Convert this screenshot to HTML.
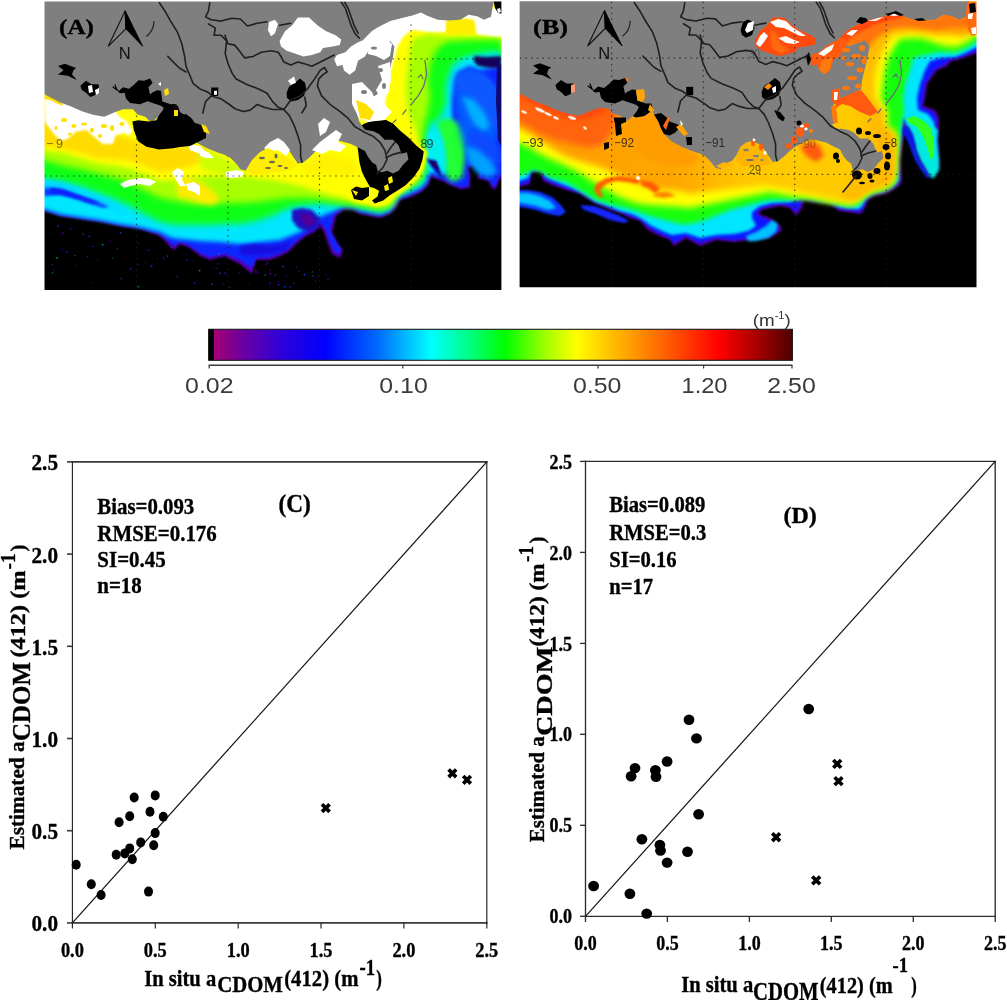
<!DOCTYPE html>
<html lang="en"><head><meta charset="utf-8"><title>CDOM absorption maps and validation</title>
<style>
html,body{margin:0;padding:0;background:#fff;}
body{width:1007px;height:1000px;overflow:hidden;font-family:"Liberation Serif",serif;}
svg{display:block;}
.tb{font-family:"Liberation Serif",serif;font-weight:bold;fill:#000;stroke:#000;stroke-width:0.35px;}
.ss{font-family:"Liberation Sans",sans-serif;}
</style></head><body>
<svg width="1007" height="1000" viewBox="0 0 1007 1000">
<defs>
<clipPath id="clipA"><rect x="44" y="1" width="458" height="290"/></clipPath>
<clipPath id="clipB"><rect x="519" y="1" width="458" height="287"/></clipPath>
<filter id="bl0_5" x="-20%" y="-20%" width="140%" height="140%"><feGaussianBlur stdDeviation="0.5"/></filter>
<filter id="bl0_7" x="-20%" y="-20%" width="140%" height="140%"><feGaussianBlur stdDeviation="0.7"/></filter>
<filter id="bl1" x="-20%" y="-20%" width="140%" height="140%"><feGaussianBlur stdDeviation="1"/></filter>
<filter id="bl1_5" x="-20%" y="-20%" width="140%" height="140%"><feGaussianBlur stdDeviation="1.5"/></filter>
<filter id="bl2" x="-20%" y="-20%" width="140%" height="140%"><feGaussianBlur stdDeviation="2"/></filter>
<filter id="bl2_5" x="-20%" y="-20%" width="140%" height="140%"><feGaussianBlur stdDeviation="2.5"/></filter>
<filter id="bl3" x="-20%" y="-20%" width="140%" height="140%"><feGaussianBlur stdDeviation="3"/></filter>
<filter id="bl4" x="-20%" y="-20%" width="140%" height="140%"><feGaussianBlur stdDeviation="4"/></filter>
<filter id="bl5" x="-20%" y="-20%" width="140%" height="140%"><feGaussianBlur stdDeviation="5"/></filter>
<filter id="bl6" x="-20%" y="-20%" width="140%" height="140%"><feGaussianBlur stdDeviation="6"/></filter>
<g id="land">
<polygon points="510.0,-5.0 969.0,-5.0 968.8,1.6 967.4,8.4 966.0,16.8 959.0,19.6 952.0,16.1 943.6,14.7 935.2,19.6 924.0,20.3 912.8,19.6 901.6,15.4 896.0,12.6 887.6,15.4 876.4,18.2 865.2,21.0 854.0,26.6 847.0,30.8 840.0,37.8 838.0,40.0 840.0,42.0 848.4,46.2 856.8,43.4 865.2,40.6 869.4,46.2 868.0,56.0 865.2,67.2 862.4,78.4 861.0,89.6 854.0,92.4 847.0,96.6 840.0,100.8 834.0,104.0 832.0,112.0 834.0,120.0 838.0,126.0 840.0,128.6 848.4,130.0 854.0,132.8 859.6,138.4 868.0,138.4 873.6,144.0 876.4,152.4 882.0,151.0 883.4,158.0 877.8,163.6 873.6,169.2 868.0,172.0 862.4,169.2 856.8,170.6 852.6,169.2 851.2,163.6 847.0,160.8 842.8,155.2 840.0,149.6 831.6,145.4 826.0,142.6 820.4,141.2 812.0,139.0 803.6,142.6 795.2,146.8 789.6,151.0 784.0,156.6 778.4,160.8 772.8,162.2 770.0,158.0 764.4,149.6 758.8,144.0 751.8,141.2 746.2,142.6 740.6,146.8 736.4,155.2 732.2,160.8 725.2,163.6 721.0,169.2 715.4,167.8 711.2,162.2 705.6,156.6 700.0,153.5 692.0,151.0 681.0,146.5 671.0,141.0 664.0,134.0 658.0,122.0 653.0,112.0 648.6,113.0 644.4,116.0 636.0,117.4 633.0,116.0 626.0,121.6 620.6,116.0 612.2,113.2 608.0,108.3 598.2,108.3 588.4,111.8 579.2,115.8 568.0,113.7 556.8,110.2 545.6,105.3 535.8,101.8 527.4,97.6 519.4,93.4 510.0,90.0" fill="#7f7f7f" />
<polyline points="900.0,60.0 901.6,74.0 898.8,85.2 893.2,95.0 886.2,103.4" fill="none" stroke="#6a6a78" stroke-width="1.3" stroke-linejoin="round" stroke-linecap="round" />
<polyline points="881.0,109.0 877.8,113.2" fill="none" stroke="#6a6a78" stroke-width="1.3" stroke-linejoin="round" stroke-linecap="round" />
<polyline points="871.0,119.0 868.0,121.6" fill="none" stroke="#6a6a78" stroke-width="1.3" stroke-linejoin="round" stroke-linecap="round" />
<polyline points="893.0,77.0 896.0,74.0 898.0,78.0" fill="none" stroke="#6a6a78" stroke-width="1.1" stroke-linejoin="round" stroke-linecap="round" />
</g>
<g id="rivers">
<polyline points="634.4,2.8 640.0,11.2 645.6,21.0 652.6,32.2 656.8,43.4 659.6,56.0 661.0,65.8 665.2,75.6 668.0,82.6 675.0,88.2 682.0,91.0 686.2,93.8" fill="none" stroke="#202020" stroke-width="1.6" stroke-linejoin="round" stroke-linecap="round" />
<polyline points="642.8,56.0 648.4,61.6 654.0,67.2 661.0,71.4" fill="none" stroke="#202020" stroke-width="1.6" stroke-linejoin="round" stroke-linecap="round" />
<polyline points="686.2,95.2 696.0,98.0 704.4,103.6 710.0,107.8 718.2,110.6 725.2,109.2 732.2,103.6 739.2,106.4 747.6,108.5 758.8,108.5" fill="none" stroke="#202020" stroke-width="1.6" stroke-linejoin="round" stroke-linecap="round" />
<polyline points="686.2,95.2 680.6,100.8 677.8,112.0" fill="none" stroke="#202020" stroke-width="1.6" stroke-linejoin="round" stroke-linecap="round" />
<polyline points="684.8,2.8 683.4,11.2 680.6,16.8 686.2,19.6 696.0,21.0 707.0,18.2 715.4,18.9 722.4,25.9 732.2,23.1 742.0,21.7" fill="none" stroke="#202020" stroke-width="1.6" stroke-linejoin="round" stroke-linecap="round" />
<polyline points="754.6,25.2 765.8,23.1" fill="none" stroke="#202020" stroke-width="1.6" stroke-linejoin="round" stroke-linecap="round" />
<polyline points="683.4,23.8 690.4,28.0 689.0,35.0 696.0,35.0 701.6,40.6 700.2,53.2 703.0,63.0 707.2,72.8 711.2,78.4 722.4,84.0 733.6,88.2 742.0,92.4 747.6,100.8 753.2,106.4 758.8,108.5" fill="none" stroke="#202020" stroke-width="1.6" stroke-linejoin="round" stroke-linecap="round" />
<polyline points="700.0,35.0 702.8,43.4 709.8,44.8 715.4,51.8 719.6,57.4 728.0,56.0 736.4,51.8 746.2,50.4 753.2,51.8 756.0,56.0 758.8,61.6 765.8,64.4 772.8,61.6 781.2,63.7 786.8,65.8 792.4,63.0 800.8,58.8 809.2,54.6" fill="none" stroke="#202020" stroke-width="1.6" stroke-linejoin="round" stroke-linecap="round" />
<polyline points="758.8,108.5 764.4,114.6 768.6,123.0 772.8,134.2 775.6,144.0 775.6,155.2 777.0,160.8" fill="none" stroke="#202020" stroke-width="1.6" stroke-linejoin="round" stroke-linecap="round" />
<polyline points="758.8,108.5 765.8,99.2 775.6,95.0 782.6,88.0 789.6,78.2 795.2,69.8 799.4,67.0 802.2,71.2 798.0,74.0 793.8,78.2 792.4,85.2 796.6,95.0 805.0,103.4 814.8,110.4 823.2,117.4 830.2,125.8 840.0,131.4 848.0,135.0 855.0,141.0 860.0,149.0 862.0,158.0 858.0,166.0 852.0,172.0" fill="none" stroke="#202020" stroke-width="1.6" stroke-linejoin="round" stroke-linecap="round" />
<polyline points="779.8,96.4 781.2,104.8 777.0,111.8" fill="none" stroke="#202020" stroke-width="1.6" stroke-linejoin="round" stroke-linecap="round" />
<polyline points="862.0,152.0 866.0,146.0 870.0,141.0" fill="none" stroke="#202020" stroke-width="1.6" stroke-linejoin="round" stroke-linecap="round" />
<polyline points="861.0,156.0 868.0,153.0 876.0,151.0" fill="none" stroke="#202020" stroke-width="1.6" stroke-linejoin="round" stroke-linecap="round" />
<polyline points="816.2,2.1 820.4,8.4 823.2,16.8 826.0,25.2 830.2,33.6 834.4,37.8" fill="none" stroke="#202020" stroke-width="1.6" stroke-linejoin="round" stroke-linecap="round" />
<polyline points="819.5,2.1 823.4,9.0 826.2,17.0 829.0,25.0 833.0,33.0" fill="none" stroke="#202020" stroke-width="1.6" stroke-linejoin="round" stroke-linecap="round" />
</g>
</defs>
<g clip-path="url(#clipB)">
<rect x="518.6" y="0.3" width="458.9" height="288.0" fill="#000"/>
<polygon points="500.0,187.0 519.4,187.0 530.0,184.0 532.0,172.0 541.0,172.0 543.0,181.0 552.0,185.0 566.0,190.0 580.0,194.0 594.0,203.0 608.0,209.0 622.0,214.0 630.0,218.0 640.0,221.0 648.0,230.0 660.0,236.0 670.0,240.0 674.0,246.0 686.0,238.0 700.0,246.0 716.0,240.0 734.0,242.0 750.0,240.0 770.0,238.0 782.0,230.0 780.0,226.0 770.0,218.0 758.0,214.0 762.0,210.0 770.0,208.0 780.0,206.0 790.0,208.0 796.0,216.0 802.0,208.0 804.0,200.0 810.0,202.0 830.0,204.0 839.0,211.0 855.0,213.0 860.0,214.0 864.0,210.0 868.0,200.0 875.0,196.0 885.0,194.0 893.0,190.0 900.0,185.0 902.0,180.0 901.0,170.0 900.0,160.0 902.0,150.0 903.0,140.0 906.0,127.0 911.0,130.0 919.0,156.0 927.0,172.0 935.0,176.0 939.0,166.0 938.0,140.0 939.0,118.0 935.0,110.0 923.0,106.0 925.0,98.0 927.0,84.0 937.0,70.0 947.0,66.0 951.0,61.0 958.0,60.0 966.0,57.0 976.6,53.0 1000.0,40.0 1000.0,-20.0 500.0,-20.0" fill="#5800b0" filter="url(#bl1)"/>
<polygon points="500.0,185.0 519.4,185.0 529.0,182.0 531.0,172.0 541.0,171.0 544.0,179.0 552.0,183.0 566.0,188.0 580.0,192.0 594.0,201.0 608.0,207.0 622.0,212.0 630.0,216.0 640.0,219.0 648.0,227.0 660.0,234.0 670.0,238.0 674.0,243.0 686.0,236.0 700.0,243.0 716.0,238.0 734.0,240.0 750.0,238.0 768.0,236.0 779.0,230.0 776.0,226.0 768.0,220.0 756.0,214.0 761.0,208.0 770.0,206.0 780.0,204.0 790.0,206.0 796.0,212.0 800.0,206.0 803.0,198.0 810.0,200.0 830.0,202.0 839.0,209.0 855.0,211.0 860.0,212.0 863.0,208.0 867.0,199.0 874.0,194.5 884.0,192.5 892.0,188.5 898.0,184.0 900.0,180.0 899.0,170.0 898.5,160.0 900.0,150.0 901.5,140.0 904.0,122.0 912.0,127.0 921.0,154.0 928.0,169.0 934.0,173.0 937.0,165.0 936.0,140.0 937.0,119.0 933.0,112.0 921.0,107.0 923.0,98.0 925.0,84.0 935.0,69.0 945.0,64.0 950.0,59.0 958.0,58.0 966.0,55.0 976.6,51.0 1000.0,40.0 1000.0,-20.0 500.0,-20.0" fill="#0a18ff" filter="url(#bl1)"/>
<polygon points="500.0,181.0 519.4,181.0 528.0,178.0 531.0,170.0 542.0,170.0 546.0,177.0 552.0,180.0 562.0,184.0 572.0,188.0 582.0,193.0 596.0,202.0 608.0,206.0 620.0,211.0 632.0,214.0 642.0,219.0 650.0,225.0 662.0,231.0 672.0,235.0 686.0,233.0 700.0,238.0 716.0,235.0 734.0,234.0 748.0,231.0 756.0,226.0 752.0,218.0 752.0,212.0 760.0,206.0 772.0,203.0 790.0,202.0 803.0,197.0 812.0,199.0 830.0,201.0 840.0,207.0 855.0,209.0 859.0,209.0 862.0,206.0 866.0,197.5 873.0,193.0 883.0,191.0 890.5,187.5 896.5,183.0 898.5,179.0 897.5,170.0 897.0,160.0 898.5,150.0 900.0,140.0 902.0,128.0 903.0,118.0 910.0,122.0 916.0,130.0 923.0,150.0 929.0,164.0 934.0,168.0 936.0,160.0 934.0,140.0 934.0,122.0 928.0,114.0 918.0,110.0 917.0,98.0 920.0,84.0 925.0,70.0 930.0,61.0 940.0,58.0 955.0,57.0 965.0,53.0 976.6,47.0 1000.0,40.0 1000.0,-20.0 500.0,-20.0" fill="#00e6ff" filter="url(#bl1_5)"/>
<polygon points="500.0,175.0 519.4,176.0 535.0,170.0 552.0,178.0 566.0,182.0 580.0,190.0 594.0,199.0 608.0,204.0 622.0,207.0 636.0,211.0 650.0,216.0 665.0,220.0 680.0,224.0 690.0,224.0 705.0,220.0 720.0,214.0 730.0,210.0 745.0,206.0 760.0,202.0 770.0,200.0 790.0,200.0 810.0,200.0 830.0,204.0 850.0,207.0 858.0,205.0 864.0,199.0 872.0,194.0 880.0,192.0 887.0,190.0 894.0,185.0 897.0,180.0 898.0,170.0 898.0,160.0 899.0,150.0 900.0,140.0 901.0,126.0 904.0,112.0 903.0,98.0 905.0,84.0 910.0,70.0 913.0,58.0 925.0,55.0 940.0,52.0 955.0,53.0 965.0,49.0 976.6,42.0 1000.0,40.0 1000.0,-20.0 500.0,-20.0" fill="#18ff10" filter="url(#bl2)"/>
<polygon points="500.0,142.0 519.4,143.0 530.0,148.0 540.0,154.0 550.0,159.0 560.0,163.0 570.0,168.0 580.0,173.0 590.0,180.0 600.0,186.0 610.0,192.0 620.0,197.0 630.0,201.0 640.0,204.0 650.0,205.0 665.0,206.0 680.0,207.0 690.0,208.0 705.0,205.0 720.0,202.0 730.0,200.0 745.0,197.0 760.0,194.0 770.0,192.0 790.0,196.0 810.0,198.0 830.0,202.0 850.0,205.0 857.0,203.0 863.0,197.5 871.0,192.5 879.0,190.5 886.0,188.5 892.5,184.0 895.5,179.0 896.5,170.0 897.0,160.0 897.5,150.0 898.0,140.0 896.0,132.0 887.0,126.0 888.0,112.0 881.0,98.0 883.0,84.0 885.0,70.0 889.0,56.0 895.0,46.0 900.0,39.0 915.0,38.0 925.0,39.0 935.0,43.0 945.0,46.0 955.0,47.0 965.0,43.0 976.6,35.0 1000.0,40.0 1000.0,-20.0 500.0,-20.0" fill="#ffff00" filter="url(#bl3)"/>
<defs><linearGradient id="gB" gradientUnits="userSpaceOnUse" x1="519" x2="977" y1="0" y2="0"><stop offset="0" stop-color="#ff9a00"/><stop offset="0.35" stop-color="#ffa800"/><stop offset="0.5" stop-color="#ffc800"/><stop offset="0.72" stop-color="#ffcc00"/><stop offset="0.8" stop-color="#ffb400"/><stop offset="1" stop-color="#ff9a00"/></linearGradient></defs>
<polygon points="500.0,128.0 519.4,128.0 530.0,134.0 540.0,140.0 550.0,147.0 560.0,153.0 570.0,158.0 580.0,161.0 590.0,164.0 600.0,167.0 612.0,172.0 625.0,178.0 640.0,184.0 650.0,188.0 665.0,190.0 680.0,191.0 690.0,194.0 705.0,192.0 720.0,190.0 740.0,188.0 760.0,186.0 770.0,186.0 790.0,190.0 810.0,194.0 830.0,199.0 850.0,202.0 856.0,201.0 862.0,196.0 870.0,191.0 878.0,189.0 885.0,187.0 891.0,183.0 894.0,178.0 895.0,170.0 895.5,160.0 896.0,150.0 896.0,140.0 893.0,132.0 884.0,126.0 884.0,112.0 875.0,98.0 874.0,84.0 876.0,70.0 880.0,56.0 886.0,44.0 892.0,35.0 910.0,32.0 935.0,35.0 950.0,35.0 960.0,36.0 968.0,35.0 976.6,32.0 1000.0,40.0 1000.0,-20.0 500.0,-20.0" fill="url(#gB)" filter="url(#bl3)"/>
<polygon points="500.0,122.0 519.4,122.0 530.0,128.0 540.0,134.0 550.0,138.0 560.0,141.0 572.0,144.0 584.0,147.0 596.0,147.0 606.0,142.0 612.0,131.0 616.0,118.0 620.0,110.0 620.0,90.0 500.0,90.0" fill="#ff6408" filter="url(#bl3)" />
<polygon points="519.0,96.0 530.0,102.0 545.0,110.0 560.0,116.0 575.0,120.0 590.0,118.0 604.0,112.0 610.0,108.0 600.0,104.0 519.0,90.0" fill="#ff4808" filter="url(#bl2_5)" />
<polygon points="596.0,184.0 606.0,178.0 620.0,176.0 632.0,178.0 640.0,180.0 638.0,184.0 628.0,182.0 616.0,181.0 606.0,184.0 600.0,190.0 604.0,198.0 598.0,196.0 594.0,190.0" fill="#ff5a00" filter="url(#bl1_5)" />
<polygon points="640.0,180.0 652.0,182.0 660.0,188.0 656.0,194.0 648.0,188.0 642.0,186.0" fill="#ff5a00" filter="url(#bl1_5)" />
<polygon points="652.0,196.0 664.0,198.0 676.0,196.0 668.0,192.0 658.0,192.0" fill="#ff8000" filter="url(#bl1_5)" />
<polygon points="626.0,122.0 634.0,117.0 646.0,116.0 652.0,112.0 660.0,124.0 668.0,136.0 674.0,142.0 690.0,150.0 700.0,158.0 690.0,166.0 670.0,166.0 650.0,160.0 636.0,150.0 626.0,140.0 622.0,130.0" fill="#ff9c00" filter="url(#bl2)" />
<polygon points="515.0,190.0 528.0,190.0 540.0,192.0 552.0,197.0 560.0,204.0 566.0,212.0 560.0,216.0 548.0,214.0 536.0,210.0 526.0,208.0 515.0,206.0" fill="#0a30ff" filter="url(#bl1)" />
<polygon points="515.0,193.0 528.0,193.0 540.0,196.0 550.0,201.0 556.0,208.0 548.0,210.0 536.0,206.0 526.0,204.0 515.0,202.0" fill="#00c8ff" filter="url(#bl1_5)" />
<polygon points="580.0,205.0 594.0,206.0 608.0,211.0 620.0,216.0 629.0,221.0 624.0,223.0 610.0,220.0 596.0,214.0 584.0,210.0" fill="#1828ff" filter="url(#bl1)" />
<polygon points="746.0,236.0 756.0,232.0 766.0,226.0 772.0,220.0 778.0,224.0 776.0,232.0 768.0,238.0 756.0,241.0 748.0,241.0" fill="#00c0ff" filter="url(#bl1_5)" />
<polygon points="904.0,118.0 912.8,113.2 924.0,118.8 932.0,125.0 938.0,130.0 937.0,140.0 939.0,160.0 939.0,170.0 934.0,178.0 930.0,177.0 926.0,170.0 920.0,160.0 916.0,150.0 912.0,140.0 908.0,129.0" fill="#00e8e0" filter="url(#bl1_5)" />
<polygon points="906.0,119.0 914.0,116.0 924.0,121.0 931.0,129.0 934.0,142.0 934.0,156.0 931.0,160.0 928.0,150.0 924.0,138.0 917.0,127.0 908.0,122.0" fill="#30ff20" filter="url(#bl1_8)" />
<polygon points="907.0,128.0 912.0,140.0 916.0,150.0 920.0,160.0 926.0,170.0 930.0,177.0 927.0,178.0 921.0,170.0 915.0,160.0 911.0,150.0 907.0,138.0 905.0,130.0" fill="#1020f0" filter="url(#bl1)" />
<polygon points="903.0,128.0 908.0,126.0 913.0,134.0 916.0,146.0 914.0,150.0 908.0,140.0 903.0,134.0" fill="#1018e0" filter="url(#bl1)" />
<polygon points="884.0,140.0 890.0,140.0 892.0,156.0 888.0,170.0 880.0,180.0 868.0,190.0 860.0,198.0 850.0,200.0 840.0,196.0 850.0,176.0 870.0,172.0 880.0,164.0" fill="#ffbe00" filter="url(#bl2)" />
<polygon points="836.0,36.0 846.0,28.0 858.0,22.0 872.0,17.0 888.0,13.0 898.0,11.0 910.0,17.0 924.0,19.0 936.0,18.0 944.0,13.0 952.0,14.0 960.0,18.0 968.0,14.0 980.0,14.0 980.0,28.0 966.0,27.0 950.0,28.0 936.0,30.0 920.0,28.0 906.0,27.0 894.0,28.0 884.0,33.0 874.0,40.0 868.0,50.0 858.0,46.0 848.0,48.0 838.0,44.0" fill="#ff7410" filter="url(#bl2)" />
<polygon points="836.0,38.0 846.0,30.0 858.0,24.0 872.0,19.0 888.0,15.0 898.0,12.0 906.0,16.0 896.0,19.0 884.0,22.0 872.0,26.0 862.0,31.0 852.0,37.0 844.0,42.0" fill="#ff4c10" filter="url(#bl1_5)" />
<use href="#land"/>
<polygon points="754.6,40.6 760.2,30.8 767.2,25.2 772.8,17.5 784.0,17.5 792.4,25.2 800.8,30.8 810.6,35.0 816.2,39.2 814.8,44.8 807.8,46.2 798.0,47.6 795.2,51.8 786.8,54.6 778.4,56.0 770.0,53.2 761.6,50.4 756.0,46.2" fill="#ff4a10" filter="url(#bl0_7)" />
<polygon points="756.0,44.0 760.0,36.0 764.0,32.0 768.0,36.0 764.0,42.0 760.0,47.0" fill="#fff" filter="url(#bl0_7)" />
<polygon points="770.0,22.0 778.0,19.0 786.0,21.0 792.0,27.0 800.0,32.0 806.0,36.0 800.0,36.0 792.0,32.0 784.0,28.0 776.0,27.0" fill="#fff" filter="url(#bl0_7)" />
<polygon points="778.0,38.0 786.0,36.0 794.0,40.0 800.0,42.0 794.0,44.0 786.0,43.0" fill="#fff" filter="url(#bl0_7)" />
<polygon points="770.0,30.0 776.0,32.0 780.0,44.0 790.0,50.0 780.0,54.0 772.0,48.0" fill="#ff6a10" filter="url(#bl1)" />
<polygon points="809.2,58.8 812.0,54.6 820.4,51.8 826.0,46.2 833.0,42.0 840.0,39.2 846.0,36.0 850.0,40.0 846.0,46.0 840.0,56.0 833.0,60.2 830.2,70.0 824.6,74.2 819.0,70.0 817.6,64.4 812.0,65.8" fill="#ff5a10" filter="url(#bl0_7)" />
<polygon points="818.0,54.0 826.0,48.0 834.0,44.0 832.0,50.0 824.0,56.0" fill="#fff" filter="url(#bl0_7)" />
<polygon points="822.0,60.0 832.0,58.0 830.0,70.0 824.6,74.2 819.0,70.0" fill="#ff7a10" filter="url(#bl0_7)" />
<polygon points="806.0,56.0 809.0,52.0 811.0,60.0 808.0,66.0" fill="#000" filter="url(#bl0_5)" />
<polygon points="842.0,36.0 850.0,29.0 858.0,25.0 866.0,22.0 872.0,26.0 862.0,30.0 852.0,36.0 846.0,41.0" fill="#ff4a10" filter="url(#bl0_7)" />
<polygon points="846.0,34.0 852.0,30.0 858.0,30.0 852.0,36.0" fill="#fff" filter="url(#bl0_7)" />
<polygon points="866.0,21.0 876.0,18.5 888.0,15.5 896.0,13.0 902.0,16.0 890.0,20.0 878.0,23.0 868.0,25.0" fill="#ff4a10" filter="url(#bl0_7)" />
<polygon points="868.0,21.0 878.0,18.0 884.0,17.0 876.0,21.0" fill="#fff" filter="url(#bl0_5)" />
<polygon points="888.0,15.0 896.0,12.4 902.0,15.0 894.0,16.0" fill="#fff" filter="url(#bl0_5)" />
<polygon points="856.0,22.0 860.0,17.0 866.0,18.0 868.0,21.0 862.0,24.0" fill="#000" filter="url(#bl0_5)" />
<polygon points="886.0,14.0 896.0,11.0 904.0,15.0 900.0,16.0 894.0,13.6 888.0,16.0" fill="#000" filter="url(#bl0_5)" />
<polygon points="914.0,19.0 922.0,18.0 926.0,20.5 918.0,21.0" fill="#000" filter="url(#bl0_5)" />
<polygon points="967.0,2.0 977.0,2.0 977.0,34.0 972.0,36.0 968.0,30.0 966.0,18.0" fill="#ff6a10" filter="url(#bl0_7)" />
<polygon points="969.0,4.0 975.0,3.0 976.0,12.0 970.0,13.0" fill="#000" filter="url(#bl0_7)" />
<polygon points="968.0,14.0 973.0,13.0 972.0,19.0 968.0,19.0" fill="#fff" filter="url(#bl0_5)" />
<polygon points="971.0,28.0 976.0,27.0 976.0,34.0 972.0,34.0" fill="#fff" filter="url(#bl0_5)" />
<ellipse cx="846.0" cy="50.0" rx="4.0" ry="2.2" fill="#ff7a10" filter="url(#bl0_7)"/>
<ellipse cx="856.0" cy="56.0" rx="5.0" ry="2.0" fill="#ff7a10" filter="url(#bl0_7)"/>
<ellipse cx="850.0" cy="64.0" rx="4.0" ry="2.0" fill="#ff7a10" filter="url(#bl0_7)"/>
<ellipse cx="860.0" cy="70.0" rx="3.5" ry="2.5" fill="#ff7a10" filter="url(#bl0_7)"/>
<ellipse cx="852.0" cy="78.0" rx="5.0" ry="2.0" fill="#ff7a10" filter="url(#bl0_7)"/>
<ellipse cx="858.0" cy="86.0" rx="3.0" ry="2.5" fill="#ff7a10" filter="url(#bl0_7)"/>
<ellipse cx="846.0" cy="88.0" rx="4.0" ry="2.0" fill="#ff7a10" filter="url(#bl0_7)"/>
<ellipse cx="862.0" cy="48.0" rx="3.0" ry="3.0" fill="#ff7a10" filter="url(#bl0_7)"/>
<ellipse cx="844.0" cy="58.0" rx="2.5" ry="2.0" fill="#ff7a10" filter="url(#bl0_7)"/>
<ellipse cx="864.0" cy="60.0" rx="2.5" ry="4.0" fill="#ff7a10" filter="url(#bl0_7)"/>
<polygon points="861.0,90.0 866.0,96.0 872.0,104.0 878.0,112.0 870.0,116.0 860.0,112.0 850.0,106.0 842.0,104.0 836.0,108.0 834.0,100.0 840.0,98.0 848.0,95.0 854.0,92.0" fill="#ff5a10" filter="url(#bl1_2)" />
<polygon points="832.0,90.0 840.0,88.0 840.0,100.0 834.0,104.0 831.0,98.0" fill="#ff5a10" filter="url(#bl0_7)" />
<polygon points="834.0,92.0 838.0,92.0 837.0,100.0 834.0,100.0" fill="#fff" filter="url(#bl0_5)" />
<polygon points="831.0,106.0 836.0,106.0 838.0,124.0 833.0,122.0" fill="#ff7a10" filter="url(#bl0_7)" />
<polygon points="832.0,124.0 840.0,122.0 840.0,129.0 834.0,128.0" fill="#ffc400" filter="url(#bl0_7)" />
<ellipse cx="800.0" cy="132.0" rx="4.0" ry="5.0" fill="#ff5a10" filter="url(#bl0_5)"/>
<ellipse cx="806.0" cy="126.0" rx="3.0" ry="3.0" fill="#ff5a10" filter="url(#bl0_5)"/>
<ellipse cx="794.0" cy="140.0" rx="3.0" ry="4.0" fill="#ff5a10" filter="url(#bl0_5)"/>
<ellipse cx="789.0" cy="146.0" rx="3.0" ry="3.0" fill="#ff5a10" filter="url(#bl0_5)"/>
<ellipse cx="811.0" cy="131.0" rx="2.0" ry="2.0" fill="#ff7a10" filter="url(#bl0_5)"/>
<ellipse cx="802.0" cy="126.0" rx="2.0" ry="1.6" fill="#fff" filter="url(#bl0_5)"/>
<ellipse cx="806.0" cy="129.0" rx="1.6" ry="1.4" fill="#fff" filter="url(#bl0_5)"/>
<ellipse cx="799.0" cy="123.0" rx="2.5" ry="2.5" fill="#000" filter="url(#bl0_5)"/>
<polygon points="800.0,146.0 812.0,141.0 820.0,146.0 824.0,156.0 816.0,162.0 806.0,156.0" fill="#ff5a10" filter="url(#bl2)" />
<polygon points="741.0,147.0 746.0,143.0 752.0,142.0 758.0,145.0 764.0,150.0 769.0,158.0 771.0,164.0 760.0,166.0 750.0,166.0 742.0,166.0 736.0,160.0 737.0,154.0" fill="#ffb400" filter="url(#bl0_7)" />
<ellipse cx="753.0" cy="143.0" rx="2.0" ry="3.0" fill="#ff5a10" filter="url(#bl0_5)"/>
<ellipse cx="761.0" cy="147.0" rx="2.0" ry="3.5" fill="#ff5a10" filter="url(#bl0_5)"/>
<ellipse cx="765.0" cy="153.0" rx="1.6" ry="2.0" fill="#fff" filter="url(#bl0_5)"/>
<ellipse cx="754.0" cy="140.0" rx="1.4" ry="1.4" fill="#fff" filter="url(#bl0_5)"/>
<ellipse cx="746.0" cy="150.0" rx="3.0" ry="1.2" fill="#7f7f7f" filter="url(#bl0_5)"/>
<ellipse cx="756.0" cy="156.0" rx="3.0" ry="1.2" fill="#7f7f7f" filter="url(#bl0_5)"/>
<ellipse cx="762.0" cy="160.0" rx="2.0" ry="1.0" fill="#7f7f7f" filter="url(#bl0_5)"/>
<ellipse cx="750.0" cy="160.0" rx="4.0" ry="1.0" fill="#6a6a78" filter="url(#bl0_5)"/>
<polygon points="716.0,166.0 724.0,162.0 730.0,165.0 722.0,169.0" fill="#ffb400" filter="url(#bl0_7)" />
<polygon points="591.0,88.0 594.0,90.0 598.0,86.6 604.0,88.0 609.0,84.0 613.6,79.6 619.0,80.0 625.0,78.0 627.6,82.4 623.4,86.6 625.0,93.6 622.0,100.6 615.0,103.4 605.0,102.0 601.0,97.8 599.6,92.0 596.0,92.5 594.0,92.0" fill="#000" filter="url(#bl0_5)" />
<polygon points="623.4,95.0 627.0,92.0 632.0,89.4 636.0,90.0 637.4,100.6 645.8,103.4 651.4,103.4 652.8,109.0 648.6,113.0 644.4,116.0 636.0,117.4 633.0,116.0 637.0,111.0 638.8,107.0 636.0,104.8 627.6,102.0 622.0,100.0" fill="#000" filter="url(#bl0_5)" />
<polygon points="654.0,114.6 661.0,113.0 666.8,117.4 669.6,121.6 678.0,124.4 680.8,127.0 675.0,132.8 669.6,135.6 664.0,134.0 661.0,128.6 658.4,121.6" fill="#000" filter="url(#bl0_5)" />
<polygon points="533.0,65.4 540.0,63.3 545.6,65.4 551.2,67.5 548.4,69.6 547.0,73.8 551.9,79.4 548.4,78.0 542.8,75.2 533.0,73.8 538.6,69.6" fill="#000" filter="url(#bl0_5)" />
<polygon points="555.4,85.0 561.0,80.1 566.6,83.6 573.6,83.6 574.3,90.6 569.4,94.8 565.2,96.2 561.0,92.0 556.8,89.2" fill="#000" filter="url(#bl0_5)" />
<polygon points="761.6,92.0 764.0,86.0 770.0,82.0 775.0,78.0 780.0,82.0 781.2,88.0 779.0,95.0 773.0,99.0 766.0,100.6 762.0,97.0" fill="#000" filter="url(#bl0_5)" />
<polygon points="740.6,30.0 743.0,22.0 748.0,19.6 753.0,22.0 754.6,28.0 752.0,35.0 746.0,37.8 742.0,35.0" fill="#000" filter="url(#bl0_5)" />
<polyline points="588.0,86.0 592.0,89.0 590.0,84.0" fill="none" stroke="#000" stroke-width="1.2" stroke-linejoin="round" stroke-linecap="round" />
<polygon points="636.0,90.0 644.0,89.0 645.0,97.0 643.0,102.0 637.4,100.6" fill="#ffa400" filter="url(#bl0_5)" />
<polygon points="625.0,78.0 629.0,79.0 628.0,83.0" fill="#ff7a10" filter="url(#bl0_5)" />
<polygon points="650.0,104.0 654.0,110.0 652.0,113.0 648.0,110.0" fill="#ffa400" filter="url(#bl0_5)" />
<polygon points="663.0,126.0 668.0,117.0 670.0,118.0 666.0,130.0" fill="#ff6a10" filter="url(#bl0_5)" />
<polygon points="676.0,127.0 681.0,124.0 688.0,134.0 684.0,136.0" fill="#ffa400" filter="url(#bl0_5)" />
<polygon points="686.0,137.0 692.0,137.0 692.0,145.0 687.0,145.0" fill="#000" filter="url(#bl0_5)" />
<polygon points="680.0,120.0 683.0,124.0 681.0,126.0" fill="#fff" filter="url(#bl0_4)" />
<polygon points="613.6,117.4 626.0,117.4 626.0,122.0 621.0,124.0 622.0,134.0 616.0,136.0 615.0,124.0" fill="#000" filter="url(#bl0_5)" />
<polygon points="604.0,143.0 609.0,142.0 609.0,148.0 604.0,150.0" fill="#000" filter="url(#bl0_5)" />
<polygon points="686.2,86.8 693.2,86.8 693.2,95.2 686.2,95.2" fill="#000" filter="url(#bl0_5)" />
<polygon points="774.0,110.0 780.0,112.0 785.0,118.0 783.0,121.6 778.0,118.0" fill="#000" filter="url(#bl0_5)" />
<polygon points="571.0,85.0 575.0,84.0 575.0,92.0 571.0,93.0" fill="#ff9a70" filter="url(#bl0_5)" />
<polygon points="748.0,23.0 754.0,21.0 753.0,30.0 747.0,33.0 745.0,30.0" fill="#fff" filter="url(#bl0_5)" />
<polygon points="764.0,87.0 769.0,83.0 772.0,86.0 768.0,90.0" fill="#ff8a10" filter="url(#bl0_5)" />
<polygon points="772.0,88.0 776.0,86.0 776.0,92.0 773.0,93.0" fill="#fff" filter="url(#bl0_4)" />
<ellipse cx="859.0" cy="131.0" rx="3.0" ry="3.5" fill="#000" filter="url(#bl0_5)"/>
<ellipse cx="868.0" cy="133.0" rx="3.0" ry="2.0" fill="#000" filter="url(#bl0_5)"/>
<ellipse cx="877.0" cy="136.0" rx="4.0" ry="2.0" fill="#000" filter="url(#bl0_5)"/>
<ellipse cx="886.0" cy="147.0" rx="3.5" ry="3.0" fill="#000" filter="url(#bl0_5)"/>
<ellipse cx="888.0" cy="156.0" rx="3.0" ry="3.5" fill="#000" filter="url(#bl0_5)"/>
<ellipse cx="887.0" cy="166.0" rx="3.0" ry="4.5" fill="#000" filter="url(#bl0_5)"/>
<ellipse cx="877.0" cy="171.0" rx="3.5" ry="3.0" fill="#000" filter="url(#bl0_5)"/>
<ellipse cx="870.0" cy="176.0" rx="2.5" ry="3.0" fill="#000" filter="url(#bl0_5)"/>
<ellipse cx="857.0" cy="175.0" rx="5.0" ry="4.5" fill="#000" filter="url(#bl0_5)"/>
<ellipse cx="862.0" cy="183.0" rx="3.0" ry="1.2" fill="#000" filter="url(#bl0_5)"/>
<ellipse cx="872.0" cy="181.0" rx="2.5" ry="1.5" fill="#000" filter="url(#bl0_5)"/>
<ellipse cx="836.0" cy="156.0" rx="3.0" ry="3.5" fill="#000" filter="url(#bl0_5)"/>
<ellipse cx="838.0" cy="161.0" rx="2.0" ry="2.0" fill="#000" filter="url(#bl0_5)"/>
<polyline points="856.0,176.0 848.0,186.0 843.0,192.0" fill="none" stroke="#222" stroke-width="1.6" stroke-linejoin="round" stroke-linecap="round" />
<use href="#rivers"/>
<ellipse cx="540.0" cy="110.0" rx="5.0" ry="1.5" fill="#fff" transform="rotate(25 540.0 110.0)" filter="url(#bl0_5)"/>
<ellipse cx="548.0" cy="114.0" rx="4.0" ry="1.2" fill="#fff" transform="rotate(25 548.0 114.0)" filter="url(#bl0_5)"/>
<ellipse cx="556.0" cy="118.0" rx="3.0" ry="1.2" fill="#fff" transform="rotate(25 556.0 118.0)" filter="url(#bl0_5)"/>
<ellipse cx="572.0" cy="118.0" rx="4.0" ry="1.4" fill="#fff" transform="rotate(20 572.0 118.0)" filter="url(#bl0_5)"/>
<ellipse cx="585.0" cy="128.0" rx="2.0" ry="1.2" fill="#fff" transform="rotate(40 585.0 128.0)" filter="url(#bl0_5)"/>
<ellipse cx="524.0" cy="112.0" rx="3.0" ry="1.2" fill="#fff" transform="rotate(25 524.0 112.0)" filter="url(#bl0_5)"/>
<ellipse cx="638.0" cy="178.0" rx="2.2" ry="1.8" fill="#fff" transform="rotate(30 638.0 178.0)" filter="url(#bl0_5)"/>
<ellipse cx="510.0" cy="120.0" rx="2.0" ry="1.0" fill="#fff" transform="rotate(0 510.0 120.0)" filter="url(#bl0_5)"/>
<path d="M611.6 1.3V287.3" stroke="#1c1c10" stroke-width="1.2" stroke-dasharray="1.6 4.1" opacity="0.72"/>
<path d="M703.2 1.3V287.3" stroke="#1c1c10" stroke-width="1.2" stroke-dasharray="1.6 4.1" opacity="0.72"/>
<path d="M794.7 1.3V287.3" stroke="#1c1c10" stroke-width="1.2" stroke-dasharray="1.6 4.1" opacity="0.72"/>
<path d="M886.2 1.3V287.3" stroke="#1c1c10" stroke-width="1.2" stroke-dasharray="1.6 4.1" opacity="0.72"/>
<path d="M519.6 58.1H976.5" stroke="#1c1c10" stroke-width="1.2" stroke-dasharray="1.6 4.1" opacity="0.72"/>
<path d="M519.6 174.3H976.5" stroke="#1c1c10" stroke-width="1.2" stroke-dasharray="1.6 4.1" opacity="0.72"/>
<text class="ss" x="522.0" y="147.0" font-size="12.5" fill="#1a1a10" opacity="0.85" textLength="21.5" lengthAdjust="spacingAndGlyphs">−93</text>
<text class="ss" x="614.0" y="147.0" font-size="12.5" fill="#1a1a10" opacity="0.85" textLength="20.0" lengthAdjust="spacingAndGlyphs">−92</text>
<text class="ss" x="705.0" y="147.0" font-size="12.5" fill="#1a1a10" opacity="0.85" textLength="20.0" lengthAdjust="spacingAndGlyphs">−91</text>
<text class="ss" x="797.0" y="148.0" font-size="12.5" fill="#1a1a10" opacity="0.35" textLength="19.0" lengthAdjust="spacingAndGlyphs">−90</text>
<text class="ss" x="884.0" y="147.0" font-size="12.5" fill="#1a1a10" opacity="0.85" textLength="13.0" lengthAdjust="spacingAndGlyphs">−8</text>
<text class="ss" x="749.0" y="174.0" font-size="12.5" fill="#1a1a10" opacity="0.7" textLength="12.0" lengthAdjust="spacingAndGlyphs">29</text>
<text class="ss" x="749.0" y="58.0" font-size="12.5" fill="#1a1a10" opacity="0.4" textLength="11.0" lengthAdjust="spacingAndGlyphs">30</text>
<text class="tb" x="533" y="34" font-size="21" textLength="35" lengthAdjust="spacingAndGlyphs" fill="#111">(B)</text>
<path d="M604.6 10.5L587.6 46.0L605.2 28.5Z" fill="none" stroke="#111" stroke-width="1.1" stroke-linejoin="miter"/>
<path d="M604.6 10.5L622.1 46.0L605.2 28.5Z" fill="#000" stroke="#000" stroke-width="0.8"/>
<text class="ss" x="604.1" y="58.7" font-size="16.5" text-anchor="middle" fill="#111">N</text>
<path d="M630.2 20.8q0 9.5 -7.6 15.4" fill="none" stroke="#222" stroke-width="1.2"/>
</g>
<path fill-rule="evenodd" fill="#fff" d="M517 -1H979V290H517ZM519.6 1.3H976.5V287.3H519.6Z"/>
<g clip-path="url(#clipA)">
<rect x="43.5" y="0.4" width="458.9" height="290.6" fill="#000"/>
<polygon points="20.0,205.0 44.5,211.0 60.0,216.0 80.0,219.0 100.0,222.0 120.0,226.0 140.0,229.0 160.0,236.0 174.0,250.0 180.0,244.0 190.0,248.0 200.0,256.0 210.0,260.0 224.0,256.0 240.0,264.0 252.0,274.0 256.0,260.0 270.0,260.0 280.0,256.0 288.0,252.0 296.0,244.0 306.0,236.0 314.0,232.0 320.0,226.0 324.0,232.0 328.0,244.0 332.0,254.0 340.0,258.0 343.0,250.0 338.0,244.0 332.0,232.0 336.0,216.0 344.0,210.0 352.0,210.0 360.0,214.0 370.0,216.0 380.0,218.0 390.0,214.0 396.0,208.0 400.0,200.0 411.0,197.0 422.0,191.5 428.6,185.0 431.0,177.0 441.8,180.4 449.5,184.8 460.5,189.2 470.0,187.5 470.4,176.0 468.5,167.5 474.8,165.0 479.0,171.6 477.5,178.5 488.0,180.4 491.3,187.0 495.0,190.0 499.0,180.4 501.5,176.0 530.0,180.0 530.0,-20.0 20.0,-20.0" fill="#5a00b4" filter="url(#bl1)"/>
<polygon points="20.0,204.0 44.5,210.0 60.0,215.0 80.0,218.0 100.0,221.0 120.0,225.0 140.0,228.0 160.0,234.0 174.0,246.0 180.0,242.0 190.0,246.0 200.0,253.0 210.0,257.0 224.0,254.0 240.0,260.0 252.0,268.0 256.0,258.0 270.0,257.0 280.0,253.0 288.0,249.0 296.0,241.0 306.0,234.0 314.0,229.0 320.0,222.0 326.0,230.0 330.0,242.0 334.0,251.0 339.0,254.0 341.0,249.0 336.0,242.0 330.0,230.0 334.0,214.0 344.0,208.0 352.0,208.0 360.0,212.0 370.0,214.0 380.0,216.0 390.0,212.0 395.0,206.0 399.0,199.0 410.0,195.5 421.0,190.0 427.0,184.0 430.0,175.5 441.8,178.8 449.5,183.0 460.5,187.5 468.5,186.0 468.8,176.0 467.0,167.0 475.0,163.3 480.6,171.6 479.0,177.0 488.0,178.8 492.0,184.0 495.0,187.0 498.0,179.0 501.5,174.0 530.0,180.0 530.0,-20.0 20.0,-20.0" fill="#0828ff" filter="url(#bl1)"/>
<polygon points="20.0,203.0 44.5,209.0 60.0,214.0 80.0,217.0 100.0,220.0 120.0,224.0 140.0,227.0 160.0,232.0 172.0,238.0 180.0,239.0 190.0,240.0 200.0,241.0 220.0,242.0 240.0,244.0 260.0,242.0 280.0,240.0 290.0,236.0 300.0,232.0 310.0,226.0 318.0,218.0 326.0,214.0 332.0,212.0 344.0,206.0 352.0,206.0 360.0,210.0 370.0,212.0 380.0,214.0 390.0,210.0 394.0,204.0 398.0,197.0 409.0,193.0 420.0,188.0 425.5,182.5 428.5,174.0 436.0,170.0 444.0,174.0 452.0,172.0 456.0,160.0 454.0,140.0 452.0,120.0 452.0,100.0 454.0,84.0 458.0,72.0 470.0,66.0 480.0,70.0 490.0,68.0 501.5,66.0 530.0,180.0 530.0,-20.0 20.0,-20.0" fill="#00e6ff" filter="url(#bl2)"/>
<polygon points="20.0,172.0 44.5,179.0 64.0,182.0 80.0,186.0 96.0,192.0 112.0,198.0 128.0,205.0 144.0,214.0 160.0,222.0 176.0,225.0 192.0,225.0 208.0,225.0 224.0,224.0 240.0,224.0 256.0,221.0 272.0,216.0 284.0,210.0 296.0,206.0 320.0,204.0 340.0,206.0 360.0,208.0 380.0,212.0 390.0,208.0 394.0,201.0 398.0,195.0 408.0,190.0 418.0,185.0 423.0,180.0 426.0,172.0 428.0,160.0 427.0,140.0 430.0,124.0 440.0,118.0 446.0,104.0 446.0,84.0 452.0,66.0 462.0,58.0 476.0,54.0 490.0,52.0 501.5,52.0 530.0,180.0 530.0,-20.0 20.0,-20.0" fill="#10ff18" filter="url(#bl3)"/>
<polygon points="436.0,122.0 448.0,118.0 458.0,122.0 464.0,134.0 466.0,150.0 464.0,166.0 462.0,178.0 452.0,182.0 446.0,176.0 446.0,160.0 444.0,146.0 440.0,134.0" fill="#20ff30" filter="url(#bl2_5)" />
<polygon points="427.0,132.0 436.0,128.0 442.0,140.0 444.0,160.0 442.0,176.0 434.0,172.0 428.0,166.0 426.0,150.0" fill="#00f0f0" filter="url(#bl2)" />
<polygon points="20.0,152.0 44.5,160.0 64.0,166.0 80.0,169.0 96.0,173.0 112.0,177.0 128.0,182.0 144.0,190.0 160.0,198.0 176.0,201.0 192.0,204.0 208.0,204.0 224.0,203.0 240.0,203.0 256.0,202.0 272.0,200.0 288.0,198.0 304.0,198.0 320.0,199.0 340.0,202.0 360.0,205.0 380.0,209.0 392.0,206.0 398.0,193.0 407.0,187.5 416.0,182.5 421.0,177.0 423.5,168.0 423.0,156.0 422.0,140.0 424.0,124.0 428.0,110.0 430.0,96.0 428.0,80.0 430.0,64.0 436.0,50.0 446.0,42.0 470.0,40.0 501.5,40.0 530.0,180.0 530.0,-20.0 20.0,-20.0" fill="#a8ff00" filter="url(#bl3)"/>
<polygon points="20.0,146.0 44.5,150.0 64.0,153.0 80.0,158.0 96.0,163.0 112.0,165.0 128.0,168.0 144.0,174.0 160.0,181.0 176.0,180.0 192.0,178.0 208.0,176.0 224.0,176.0 240.0,176.0 256.0,178.0 272.0,180.0 288.0,183.0 304.0,187.0 320.0,192.0 340.0,197.0 360.0,201.0 380.0,205.0 390.0,203.0 396.0,191.5 405.0,185.5 414.0,180.5 419.0,175.0 421.0,166.0 420.0,156.0 418.0,140.0 414.0,126.0 408.0,112.0 406.0,96.0 406.0,80.0 408.0,64.0 410.0,48.0 414.0,38.0 430.0,34.0 446.0,36.0 474.0,36.0 501.5,36.0 530.0,180.0 530.0,-20.0 20.0,-20.0" fill="#ffff00" filter="url(#bl2_5)"/>
<polygon points="20.0,140.0 44.5,146.0 64.0,149.0 80.0,153.0 96.0,158.0 112.0,159.0 128.0,160.0 144.0,166.0 160.0,172.0 176.0,170.0 192.0,166.0 204.0,160.0 210.0,152.0 200.0,146.0 150.0,146.0 20.0,100.0" fill="#ffdc00" filter="url(#bl2_5)" />
<polygon points="300.0,166.0 312.0,158.0 326.0,154.0 340.0,156.0 352.0,160.0 358.0,170.0 350.0,178.0 336.0,176.0 320.0,174.0 306.0,174.0" fill="#fff200" filter="url(#bl3)" />
<polygon points="176.0,178.0 190.0,178.0 204.0,184.0 214.0,192.0 220.0,200.0 212.0,205.0 200.0,203.0 190.0,199.0 178.0,197.0" fill="#ffea00" filter="url(#bl2_5)" />
<polygon points="200.0,150.0 212.0,152.0 224.0,158.0 236.0,164.0 246.0,172.0 240.0,178.0 226.0,176.0 212.0,172.0 200.0,168.0" fill="#ccff00" filter="url(#bl2_5)" />
<polygon points="44.0,186.0 56.0,186.0 70.0,190.0 84.0,196.0 98.0,200.0 110.0,206.0 104.0,208.0 90.0,204.0 76.0,199.0 60.0,195.0 44.0,196.0" fill="#0a30ff" filter="url(#bl1_5)" />
<polygon points="44.0,180.0 60.0,182.0 76.0,188.0 92.0,194.0 108.0,200.0 120.0,208.0 128.0,214.0 118.0,212.0 104.0,204.0 88.0,198.0 72.0,193.0 56.0,188.0 44.0,188.0" fill="#00d8ff" filter="url(#bl2)" />
<polygon points="50.0,188.0 62.0,189.0 76.0,194.0 90.0,199.0 100.0,203.0 92.0,203.0 78.0,199.0 64.0,195.0 50.0,193.0" fill="#1020ff" filter="url(#bl1)" />
<polygon points="292.0,210.0 302.0,208.0 312.0,210.0 320.0,218.0 318.0,228.0 308.0,232.0 298.0,228.0 292.0,220.0" fill="#2008c0" filter="url(#bl1_5)" />
<polygon points="300.0,214.0 310.0,214.0 316.0,222.0 308.0,227.0 302.0,222.0" fill="#50009a" filter="url(#bl1)" />
<polygon points="240.0,246.0 256.0,244.0 270.0,246.0 284.0,244.0 292.0,240.0 286.0,250.0 270.0,254.0 252.0,256.0 240.0,254.0" fill="#1810e0" filter="url(#bl1_5)" />
<polygon points="454.0,74.0 470.0,68.0 486.0,76.0 496.0,90.0 499.0,130.0 492.0,156.0 480.0,170.0 468.0,160.0 460.0,136.0 455.0,104.0" fill="#0070ff" filter="url(#bl3)" opacity="0.7"/>
<polygon points="456.0,76.0 470.0,70.0 484.0,74.0 494.0,84.0 501.5,96.0 501.5,120.0 494.0,130.0 484.0,120.0 476.0,104.0 466.0,92.0 458.0,88.0" fill="#0a58ff" filter="url(#bl2_5)" />
<polygon points="462.0,96.0 474.0,100.0 484.0,112.0 490.0,126.0 484.0,132.0 474.0,124.0 468.0,112.0" fill="#00b0ff" filter="url(#bl2_5)" />
<polygon points="470.0,130.0 486.0,134.0 498.0,146.0 501.5,160.0 494.0,168.0 484.0,158.0 474.0,148.0 468.0,140.0" fill="#0a48ff" filter="url(#bl2_5)" />
<polygon points="466.0,146.0 478.0,150.0 490.0,160.0 498.0,172.0 488.0,178.0 476.0,172.0 468.0,160.0" fill="#00a0ff" filter="url(#bl2_5)" />
<polygon points="474.0,56.0 486.0,57.0 501.5,56.0 501.5,68.0 490.0,68.0 478.0,66.0 474.0,62.0" fill="#18045a" filter="url(#bl1_5)" />
<polygon points="497.0,66.0 503.0,64.0 503.0,150.0 498.0,140.0 496.0,100.0" fill="#100870" filter="url(#bl1_2)" />
<polygon points="120.0,184.0 128.0,180.0 140.0,178.0 150.0,179.0 156.0,182.0 150.0,186.0 140.0,184.0 130.0,186.0 124.0,188.0" fill="#fff" filter="url(#bl0_7)" />
<polygon points="172.0,172.0 178.0,168.0 184.0,172.0 182.0,180.0 186.0,186.0 180.0,186.0 176.0,180.0" fill="#fff" filter="url(#bl0_7)" />
<polygon points="186.0,184.0 194.0,182.0 200.0,186.0 200.0,196.0 194.0,192.0 188.0,190.0" fill="#fff" filter="url(#bl0_7)" />
<polygon points="226.0,172.0 236.0,170.0 244.0,172.0 242.0,177.0 232.0,178.0 226.0,177.0" fill="#fff" filter="url(#bl0_7)" />
<polygon points="188.0,144.0 200.0,146.0 206.0,152.0 200.0,154.0 190.0,150.0" fill="#fff" filter="url(#bl0_7)" />
<polygon points="30.0,90.0 44.6,99.0 44.6,121.6 54.0,134.0 61.0,141.0 68.0,138.4 76.4,131.4 86.2,130.0 96.0,138.4 103.0,144.0 112.8,144.0 115.6,135.6 124.0,132.8 129.6,135.6 132.4,130.0 126.8,121.6 118.4,116.0 110.0,100.0 60.0,90.0" fill="#fff" filter="url(#bl1)" />
<polygon points="44.0,94.0 52.0,96.0 60.0,101.0 64.0,106.0 58.0,104.0 50.0,100.0 44.0,99.0" fill="#ffe000" filter="url(#bl0_7)" />
<ellipse cx="64.0" cy="120.0" rx="3.0" ry="2.0" fill="#ffe000" filter="url(#bl0_5)"/>
<ellipse cx="74.0" cy="126.0" rx="2.5" ry="2.0" fill="#ffe000" filter="url(#bl0_5)"/>
<ellipse cx="84.0" cy="124.0" rx="3.0" ry="1.5" fill="#ffe000" filter="url(#bl0_5)"/>
<ellipse cx="92.0" cy="130.0" rx="2.0" ry="2.5" fill="#ffe000" filter="url(#bl0_5)"/>
<ellipse cx="104.0" cy="126.0" rx="3.0" ry="2.0" fill="#ffe000" filter="url(#bl0_5)"/>
<ellipse cx="112.0" cy="128.0" rx="2.0" ry="3.0" fill="#ffe000" filter="url(#bl0_5)"/>
<ellipse cx="122.0" cy="124.0" rx="2.5" ry="2.0" fill="#ffe000" filter="url(#bl0_5)"/>
<ellipse cx="100.0" cy="136.0" rx="2.0" ry="2.0" fill="#ffe000" filter="url(#bl0_5)"/>
<ellipse cx="70.0" cy="134.0" rx="2.0" ry="1.5" fill="#ffe000" filter="url(#bl0_5)"/>
<ellipse cx="56.0" cy="128.0" rx="1.5" ry="2.0" fill="#ffe000" filter="url(#bl0_5)"/>
<polygon points="520.0,38.0 490.0,36.0 476.0,34.0 474.0,22.0 462.0,20.0 448.0,22.0 446.0,32.0 430.0,32.0 412.0,30.0 404.0,36.0 397.5,46.0 395.0,56.0 392.0,67.0 389.0,78.0 387.5,90.0 385.5,100.0 385.5,112.0 382.0,118.0 372.0,122.0 362.0,120.0 350.0,112.0 346.0,96.0 348.0,76.0 340.0,64.0 332.0,56.0 336.0,44.0 346.0,36.0 356.0,30.0 370.0,24.0 384.0,14.0 400.0,8.0 520.0,8.0" fill="#fff" filter="url(#bl1)" />
<polygon points="446.0,20.0 462.0,18.0 474.0,20.0 476.0,34.0 446.0,34.0" fill="#ffee00" filter="url(#bl1)" />
<polygon points="396.0,122.0 404.0,130.0 412.0,137.0 420.0,145.0 427.5,151.0 426.0,161.0 423.0,170.0 417.0,179.0 408.0,188.0 400.0,194.0 393.0,198.0 386.0,204.0 376.0,207.0 366.0,204.0 356.0,203.0 348.0,198.0 352.0,186.0 380.0,186.0 400.0,170.0 410.0,150.0" fill="#ffff00" filter="url(#bl1_5)" />
<polygon points="426.4,158.4 436.3,160.6 440.7,171.6 442.9,179.3 436.0,173.0 430.0,165.0" fill="#0810b0" filter="url(#bl1)" />
<polygon points="429.0,160.5 435.5,162.0 439.0,170.0 434.0,167.0" fill="#200060" filter="url(#bl0_7)" />
<path d="M136.5 1.4V290.0" stroke="#1c2408" stroke-width="1.2" stroke-dasharray="1.6 4.1" opacity="0.72"/>
<path d="M228.0 1.4V290.0" stroke="#1c2408" stroke-width="1.2" stroke-dasharray="1.6 4.1" opacity="0.72"/>
<path d="M319.5 1.4V290.0" stroke="#1c2408" stroke-width="1.2" stroke-dasharray="1.6 4.1" opacity="0.72"/>
<path d="M411.0 1.4V290.0" stroke="#1c2408" stroke-width="1.2" stroke-dasharray="1.6 4.1" opacity="0.72"/>
<path d="M44.5 58.8H501.4" stroke="#1c2408" stroke-width="1.2" stroke-dasharray="1.6 4.1" opacity="0.72"/>
<path d="M44.5 176.0H501.4" stroke="#1c2408" stroke-width="1.2" stroke-dasharray="1.6 4.1" opacity="0.72"/>
<polygon points="358.0,128.0 363.6,124.0 372.0,120.8 386.0,120.1 393.0,123.6 400.0,130.6 408.4,137.6 416.8,146.0 423.8,151.6 422.4,160.0 419.6,168.4 414.0,176.8 405.6,185.2 397.2,190.8 390.2,195.0 383.2,200.6 374.8,203.4 372.0,200.6 377.6,196.4 379.0,190.8 374.0,188.0 370.0,187.0 366.0,180.0 362.0,172.0 359.4,162.0 358.0,150.0 356.0,140.0" fill="#000" filter="url(#bl0_6)" />
<use href="#land" transform="translate(-475,-0.116) scale(1,1.0098)"/>
<polygon points="493.5,0.0 503.0,0.0 503.0,14.0 498.0,13.0 495.0,8.0" fill="#000" filter="url(#bl0_6)" />
<polygon points="497.0,9.0 500.0,8.0 501.0,12.0 498.0,13.0" fill="#fff" filter="url(#bl0_4)" />
<polygon points="279.6,40.9 285.2,31.0 292.2,25.3 297.8,17.6 309.0,17.6 317.4,25.3 325.8,31.0 335.6,35.2 341.2,39.5 339.8,45.1 332.8,46.5 323.0,48.0 320.2,52.2 311.8,55.0 303.4,56.4 295.0,53.6 286.6,50.8 281.0,46.5" fill="#fff" filter="url(#bl0_7)" />
<polygon points="334.2,59.3 337.0,55.0 345.4,52.2 351.0,46.5 358.0,42.3 365.0,39.5 371.0,36.2 375.0,40.3 371.0,46.3 365.0,56.4 358.0,60.7 355.2,70.6 349.6,74.8 344.0,70.6 342.6,64.9 337.0,66.3" fill="#fff" filter="url(#bl0_7)" />
<polygon points="367.0,36.2 375.0,29.2 383.0,25.1 391.0,22.1 401.0,18.6 413.0,15.5 421.0,13.0 427.0,16.0 415.0,22.1 397.0,27.1 387.0,31.2 377.0,37.2 371.0,42.3" fill="#fff" filter="url(#bl0_7)" />
<polygon points="366.0,44.0 376.0,40.0 386.0,38.0 392.0,44.0 390.0,56.0 384.0,60.0 376.0,56.0 368.0,54.0" fill="#fff" filter="url(#bl0_8)" />
<polygon points="378.0,66.0 390.0,62.0 391.0,80.0 388.0,94.0 380.0,98.0 376.0,90.0 382.0,80.0" fill="#fff" filter="url(#bl0_8)" />
<polygon points="352.0,84.0 362.0,82.0 372.0,92.0 376.0,102.0 384.0,104.0 392.0,112.0 384.0,120.0 368.0,122.0 358.0,116.0 352.0,104.0" fill="#fff" filter="url(#bl0_8)" />
<polygon points="356.0,100.0 366.0,104.0 374.0,112.0 370.0,120.0 360.0,118.0" fill="#ffe000" filter="url(#bl0_8)" />
<ellipse cx="372.0" cy="62.0" rx="4.0" ry="2.0" fill="#7f7f7f" filter="url(#bl0_5)"/>
<ellipse cx="380.0" cy="70.0" rx="3.0" ry="2.0" fill="#7f7f7f" filter="url(#bl0_5)"/>
<ellipse cx="370.0" cy="74.0" rx="4.0" ry="2.5" fill="#7f7f7f" filter="url(#bl0_5)"/>
<ellipse cx="384.0" cy="86.0" rx="2.0" ry="3.0" fill="#7f7f7f" filter="url(#bl0_5)"/>
<ellipse cx="364.0" cy="92.0" rx="3.0" ry="2.0" fill="#7f7f7f" filter="url(#bl0_5)"/>
<ellipse cx="374.0" cy="48.0" rx="3.0" ry="1.5" fill="#7f7f7f" filter="url(#bl0_5)"/>
<polygon points="312.0,150.0 320.0,142.0 328.0,136.0 336.0,130.0 342.0,134.0 338.0,142.0 346.0,146.0 340.0,152.0 330.0,150.0 322.0,154.0" fill="#fff" filter="url(#bl0_7)" />
<polygon points="318.0,124.0 324.0,118.0 330.0,122.0 326.0,132.0 320.0,136.0" fill="#fff" filter="url(#bl0_7)" />
<polygon points="264.0,148.0 270.0,142.0 278.0,138.0 284.0,142.0 290.0,150.0 286.0,156.0 278.0,150.0 270.0,152.0" fill="#fff" filter="url(#bl0_7)" />
<polygon points="246.0,170.0 252.0,160.0 260.0,152.0 268.0,148.0 276.0,152.0 284.0,156.0 292.0,160.0 298.0,166.0 290.0,170.0 280.0,172.0 264.0,174.0 252.0,176.0" fill="#ffee00" filter="url(#bl0_8)" />
<ellipse cx="262.0" cy="158.0" rx="3.0" ry="1.2" fill="#66665a" filter="url(#bl0_5)"/>
<ellipse cx="272.0" cy="162.0" rx="3.0" ry="1.2" fill="#66665a" filter="url(#bl0_5)"/>
<ellipse cx="280.0" cy="166.0" rx="2.5" ry="1.0" fill="#66665a" filter="url(#bl0_5)"/>
<ellipse cx="268.0" cy="168.0" rx="3.0" ry="1.0" fill="#66665a" filter="url(#bl0_5)"/>
<ellipse cx="286.0" cy="168.0" rx="2.0" ry="1.0" fill="#66665a" filter="url(#bl0_5)"/>
<ellipse cx="276.0" cy="156.0" rx="1.5" ry="2.5" fill="#66665a" filter="url(#bl0_5)"/>
<polygon points="200.0,150.0 208.0,152.0 214.0,158.0 206.0,158.0 200.0,156.0" fill="#fff" filter="url(#bl0_6)" />
<polygon points="116.0,88.7 119.0,90.8 123.0,87.3 129.0,88.7 134.0,84.7 138.6,80.3 144.0,80.7 150.0,78.6 152.6,83.1 148.4,87.3 150.0,94.4 147.0,101.5 140.0,104.3 130.0,102.9 126.0,98.6 124.6,92.8 121.0,93.3 119.0,92.8" fill="#000" filter="url(#bl0_5)" />
<polygon points="148.4,95.8 152.0,92.8 157.0,90.2 161.0,90.8 162.4,101.5 170.8,104.3 176.4,104.3 177.8,110.0 173.6,114.0 169.4,117.0 161.0,118.4 158.0,117.0 162.0,112.0 163.8,107.9 161.0,105.7 152.6,102.9 147.0,100.9" fill="#000" filter="url(#bl0_5)" />
<polygon points="179.0,115.6 186.0,114.0 191.8,118.4 194.6,122.7 203.0,125.5 205.8,128.1 200.0,134.0 194.6,136.8 189.0,135.2 186.0,129.7 183.4,122.7" fill="#000" filter="url(#bl0_5)" />
<polygon points="58.0,65.9 65.0,63.8 70.6,65.9 76.2,68.0 73.4,70.2 72.0,74.4 76.9,80.1 73.4,78.6 67.8,75.8 58.0,74.4 63.6,70.2" fill="#000" filter="url(#bl0_5)" />
<polygon points="80.4,85.7 86.0,80.8 91.6,84.3 98.6,84.3 99.3,91.4 94.4,95.6 90.2,97.0 86.0,92.8 81.8,90.0" fill="#000" filter="url(#bl0_5)" />
<polygon points="286.6,92.8 289.0,86.7 295.0,82.7 300.0,78.6 305.0,82.7 306.2,88.7 304.0,95.8 298.0,99.9 291.0,101.5 287.0,97.8" fill="#000" filter="url(#bl0_5)" />
<polygon points="132.4,121.6 138.0,120.2 149.2,121.6 156.2,120.2 160.4,113.2 166.0,107.6 173.0,104.0 178.0,106.0 180.0,112.0 186.0,116.0 194.0,124.0 200.0,128.0 206.0,130.0 206.0,138.0 198.0,142.0 190.0,146.0 180.0,147.0 173.0,148.2 159.0,149.6 146.4,146.8 138.0,141.2 133.8,130.0" fill="#000" filter="url(#bl0_5)" />
<polyline points="113.0,87.0 117.0,90.0 115.0,85.0" fill="none" stroke="#000" stroke-width="1.2" stroke-linejoin="round" stroke-linecap="round" />
<polygon points="164.0,90.0 168.0,88.0 169.0,94.0 165.0,96.0" fill="#ffe000" filter="url(#bl0_5)" />
<polygon points="174.0,110.0 178.0,110.0 178.0,116.0 174.0,116.0" fill="#ffe000" filter="url(#bl0_5)" />
<polygon points="158.0,84.0 161.0,82.0 161.0,86.0" fill="#fff" filter="url(#bl0_4)" />
<polygon points="88.0,86.0 92.0,85.0 93.0,92.0 89.0,93.0" fill="#fff" filter="url(#bl0_4)" />
<polygon points="95.0,90.0 99.0,88.0 99.0,93.0 96.0,95.0" fill="#fff" filter="url(#bl0_4)" />
<polygon points="201.0,124.0 206.0,126.0 210.0,134.0 204.0,132.0" fill="#ffe000" filter="url(#bl0_5)" />
<polygon points="269.0,22.1 275.0,19.7 278.0,24.1 275.0,33.2 271.0,36.2 268.0,30.2" fill="#fff" filter="url(#bl0_5)" />
<polygon points="288.0,80.7 294.0,76.6 296.0,82.7 291.0,84.7" fill="#fff" filter="url(#bl0_5)" />
<polygon points="351.0,190.0 356.0,186.6 362.0,188.0 369.0,187.0 369.0,196.0 362.0,200.6 354.0,199.0" fill="#000" filter="url(#bl0_6)" />
<polygon points="352.0,190.0 358.0,192.0 356.0,196.0" fill="#ffee00" filter="url(#bl0_4)" />
<polygon points="388.0,178.0 392.0,176.0 393.0,182.0 389.0,184.0" fill="#ffee00" filter="url(#bl0_4)" />
<polygon points="384.0,186.0 388.0,184.0 389.0,190.0 385.0,191.0" fill="#ffee00" filter="url(#bl0_4)" />
<polygon points="211.2,87.5 218.2,87.5 218.2,96.0 211.2,96.0" fill="#000" filter="url(#bl0_5)" />
<polygon points="214.0,90.8 217.0,90.8 217.0,94.8 214.0,94.8" fill="#fff" filter="url(#bl0_4)" />
<circle cx="138.0" cy="243.7" r="0.6" fill="#7000a0" opacity="0.8"/>
<circle cx="66.6" cy="252.3" r="0.9" fill="#3010e0" opacity="0.8"/>
<circle cx="62.5" cy="249.9" r="0.6" fill="#5a00b4" opacity="0.8"/>
<circle cx="169.2" cy="245.0" r="0.9" fill="#5a00b4" opacity="0.8"/>
<circle cx="166.6" cy="279.9" r="0.6" fill="#5a00b4" opacity="0.8"/>
<circle cx="225.1" cy="273.2" r="0.9" fill="#5a00b4" opacity="0.8"/>
<circle cx="212.3" cy="251.9" r="0.6" fill="#5a00b4" opacity="0.8"/>
<circle cx="204.1" cy="253.7" r="0.6" fill="#0a40ff" opacity="0.8"/>
<circle cx="199.6" cy="270.6" r="0.9" fill="#00a0c0" opacity="0.8"/>
<circle cx="97.3" cy="260.7" r="0.6" fill="#7000a0" opacity="0.8"/>
<circle cx="151.8" cy="265.6" r="0.9" fill="#5a00b4" opacity="0.8"/>
<circle cx="62.9" cy="233.1" r="0.9" fill="#7000a0" opacity="0.8"/>
<circle cx="167.4" cy="256.1" r="0.7" fill="#00a0c0" opacity="0.8"/>
<circle cx="148.7" cy="250.3" r="0.9" fill="#5a00b4" opacity="0.8"/>
<circle cx="267.5" cy="262.7" r="0.9" fill="#3010e0" opacity="0.8"/>
<circle cx="186.6" cy="259.8" r="0.7" fill="#0a40ff" opacity="0.8"/>
<circle cx="218.9" cy="253.9" r="0.7" fill="#00a0c0" opacity="0.8"/>
<circle cx="92.8" cy="246.4" r="0.7" fill="#0a40ff" opacity="0.8"/>
<circle cx="57.1" cy="257.9" r="0.9" fill="#00a0c0" opacity="0.8"/>
<circle cx="270.1" cy="283.1" r="0.9" fill="#3010e0" opacity="0.8"/>
<circle cx="145.5" cy="262.5" r="0.6" fill="#0a40ff" opacity="0.8"/>
<circle cx="284.6" cy="286.7" r="0.9" fill="#0a40ff" opacity="0.8"/>
<circle cx="234.6" cy="256.3" r="0.7" fill="#7000a0" opacity="0.8"/>
<circle cx="229.8" cy="287.8" r="0.7" fill="#0a40ff" opacity="0.8"/>
<circle cx="249.5" cy="284.5" r="0.6" fill="#3010e0" opacity="0.8"/>
<circle cx="313.1" cy="275.8" r="0.6" fill="#00a0c0" opacity="0.8"/>
<circle cx="186.2" cy="254.4" r="0.6" fill="#3010e0" opacity="0.8"/>
<circle cx="255.7" cy="270.1" r="0.6" fill="#0a40ff" opacity="0.8"/>
<circle cx="93.2" cy="249.8" r="0.6" fill="#3010e0" opacity="0.8"/>
<circle cx="278.7" cy="284.5" r="0.9" fill="#3010e0" opacity="0.8"/>
<circle cx="163.9" cy="257.7" r="0.6" fill="#0a40ff" opacity="0.8"/>
<circle cx="88.9" cy="236.4" r="0.9" fill="#5a00b4" opacity="0.8"/>
<circle cx="112.3" cy="258.1" r="0.6" fill="#00a0c0" opacity="0.8"/>
<circle cx="120.6" cy="232.8" r="0.9" fill="#0a40ff" opacity="0.8"/>
<circle cx="150.9" cy="266.4" r="0.9" fill="#5a00b4" opacity="0.8"/>
<circle cx="290.0" cy="286.8" r="0.9" fill="#7000a0" opacity="0.8"/>
<circle cx="256.1" cy="271.9" r="0.9" fill="#7000a0" opacity="0.8"/>
<circle cx="157.4" cy="258.9" r="0.7" fill="#5a00b4" opacity="0.8"/>
<circle cx="226.1" cy="254.8" r="0.6" fill="#5a00b4" opacity="0.8"/>
<circle cx="171.1" cy="247.2" r="0.6" fill="#00a0c0" opacity="0.8"/>
<circle cx="75.1" cy="255.6" r="0.6" fill="#00a0c0" opacity="0.8"/>
<circle cx="315.5" cy="280.9" r="0.6" fill="#5a00b4" opacity="0.8"/>
<circle cx="220.4" cy="256.9" r="0.7" fill="#3010e0" opacity="0.8"/>
<circle cx="217.0" cy="268.5" r="0.7" fill="#5a00b4" opacity="0.8"/>
<circle cx="328.0" cy="279.4" r="0.7" fill="#0a40ff" opacity="0.8"/>
<circle cx="70.4" cy="228.7" r="0.9" fill="#3010e0" opacity="0.8"/>
<circle cx="121.2" cy="278.5" r="0.9" fill="#5a00b4" opacity="0.8"/>
<circle cx="52.6" cy="272.9" r="0.7" fill="#00a0c0" opacity="0.8"/>
<circle cx="87.6" cy="256.7" r="0.9" fill="#5a00b4" opacity="0.8"/>
<circle cx="130.7" cy="268.9" r="0.9" fill="#5a00b4" opacity="0.8"/>
<circle cx="286.1" cy="276.4" r="0.7" fill="#5a00b4" opacity="0.8"/>
<circle cx="265.2" cy="274.9" r="0.7" fill="#00a0c0" opacity="0.8"/>
<circle cx="226.7" cy="274.4" r="0.6" fill="#5a00b4" opacity="0.8"/>
<circle cx="278.4" cy="281.4" r="0.6" fill="#5a00b4" opacity="0.8"/>
<circle cx="193.0" cy="261.1" r="0.6" fill="#5a00b4" opacity="0.8"/>
<circle cx="270.4" cy="273.8" r="0.9" fill="#5a00b4" opacity="0.8"/>
<circle cx="217.9" cy="263.8" r="0.7" fill="#7000a0" opacity="0.8"/>
<circle cx="317.2" cy="276.5" r="0.6" fill="#5a00b4" opacity="0.8"/>
<circle cx="110.4" cy="241.6" r="0.7" fill="#5a00b4" opacity="0.8"/>
<circle cx="223.2" cy="284.4" r="0.7" fill="#5a00b4" opacity="0.8"/>
<circle cx="304.2" cy="274.5" r="0.6" fill="#7000a0" opacity="0.8"/>
<circle cx="283.0" cy="266.4" r="0.9" fill="#0a40ff" opacity="0.8"/>
<circle cx="259.0" cy="272.8" r="0.7" fill="#5a00b4" opacity="0.8"/>
<circle cx="270.1" cy="270.0" r="0.7" fill="#7000a0" opacity="0.8"/>
<circle cx="177.5" cy="276.5" r="0.9" fill="#5a00b4" opacity="0.8"/>
<circle cx="91.1" cy="282.6" r="0.6" fill="#5a00b4" opacity="0.8"/>
<circle cx="213.8" cy="267.8" r="0.6" fill="#7000a0" opacity="0.8"/>
<circle cx="219.7" cy="273.2" r="0.9" fill="#0a40ff" opacity="0.8"/>
<circle cx="312.2" cy="271.9" r="0.6" fill="#00a0c0" opacity="0.8"/>
<circle cx="52.1" cy="264.3" r="0.9" fill="#7000a0" opacity="0.8"/>
<circle cx="75.2" cy="265.9" r="0.7" fill="#5a00b4" opacity="0.8"/>
<circle cx="326.2" cy="274.8" r="0.6" fill="#5a00b4" opacity="0.8"/>
<circle cx="117.5" cy="248.4" r="0.9" fill="#5a00b4" opacity="0.8"/>
<circle cx="138.6" cy="264.3" r="0.6" fill="#5a00b4" opacity="0.8"/>
<circle cx="304.4" cy="274.7" r="0.9" fill="#0a40ff" opacity="0.8"/>
<circle cx="211.7" cy="284.3" r="0.9" fill="#0a40ff" opacity="0.8"/>
<circle cx="83.1" cy="233.9" r="0.6" fill="#00a0c0" opacity="0.8"/>
<circle cx="293.9" cy="283.0" r="0.6" fill="#00a0c0" opacity="0.8"/>
<circle cx="266.4" cy="264.4" r="0.7" fill="#5a00b4" opacity="0.8"/>
<circle cx="221.8" cy="256.1" r="0.7" fill="#5a00b4" opacity="0.8"/>
<circle cx="239.8" cy="272.6" r="0.6" fill="#0a40ff" opacity="0.8"/>
<circle cx="296.8" cy="267.3" r="0.7" fill="#5a00b4" opacity="0.8"/>
<circle cx="58.0" cy="226.1" r="0.9" fill="#0a40ff" opacity="0.8"/>
<circle cx="53.9" cy="269.9" r="0.7" fill="#5a00b4" opacity="0.8"/>
<circle cx="138.5" cy="286.6" r="0.9" fill="#00a0c0" opacity="0.8"/>
<circle cx="102.6" cy="244.7" r="0.9" fill="#00a0c0" opacity="0.8"/>
<circle cx="275.3" cy="275.2" r="0.9" fill="#5a00b4" opacity="0.8"/>
<circle cx="194.6" cy="282.9" r="0.9" fill="#3010e0" opacity="0.8"/>
<circle cx="299.5" cy="270.9" r="0.6" fill="#0a40ff" opacity="0.8"/>
<circle cx="164.3" cy="259.4" r="0.6" fill="#3010e0" opacity="0.8"/>
<use href="#rivers" transform="translate(-475,-0.116) scale(1,1.0098)"/>
<text class="ss" x="46" y="147.5" font-size="12.5" fill="#1a1a10" opacity="0.6" textLength="17">−9</text>
<text class="ss" x="420.5" y="148" font-size="12.5" fill="#1a1a10" opacity="0.8" textLength="13">89</text>
<text class="tb" x="59" y="34" font-size="21" textLength="35" lengthAdjust="spacingAndGlyphs" fill="#111">(A)</text>
<path d="M125.2 10.8L108.2 46.3L125.8 28.8Z" fill="none" stroke="#111" stroke-width="1.1" stroke-linejoin="miter"/>
<path d="M125.2 10.8L142.7 46.3L125.8 28.8Z" fill="#000" stroke="#000" stroke-width="0.8"/>
<text class="ss" x="124.7" y="59.0" font-size="16.5" text-anchor="middle" fill="#111">N</text>
<path d="M154.0 21.1q0 9.5 -7.6 15.4" fill="none" stroke="#222" stroke-width="1.2"/>
</g>
<path fill-rule="evenodd" fill="#fff" d="M42 -1H504V293H42ZM44.5 1.4H501.4V290.0H44.5Z"/>
<defs><linearGradient id="cb" x1="0" x2="1" y1="0" y2="0">
<stop offset="0.0074" stop-color="#ac0078"/>
<stop offset="0.0296" stop-color="#8c0084"/>
<stop offset="0.0622" stop-color="#6800a4"/>
<stop offset="0.1222" stop-color="#3000d8"/>
<stop offset="0.1992" stop-color="#0000ff"/>
<stop offset="0.2935" stop-color="#0070ff"/>
<stop offset="0.3808" stop-color="#00ffff"/>
<stop offset="0.4477" stop-color="#00ff80"/>
<stop offset="0.5076" stop-color="#00ff00"/>
<stop offset="0.5762" stop-color="#a0ff00"/>
<stop offset="0.6293" stop-color="#ffff00"/>
<stop offset="0.7046" stop-color="#ffb000"/>
<stop offset="0.7903" stop-color="#ff5800"/>
<stop offset="0.8743" stop-color="#ff0000"/>
<stop offset="0.9445" stop-color="#a00000"/>
<stop offset="0.9993" stop-color="#500000"/>
</linearGradient></defs>
<rect x="208.7" y="329.3" width="583.7" height="31" fill="url(#cb)" stroke="#1a1a1a" stroke-width="1.1"/>
<rect x="208.7" y="329.5" width="5.3" height="30.6" fill="#000"/>
<path d="M208.7 365.3H792.4" stroke="#3c3c3c" stroke-width="1.5" fill="none"/>
<path d="M209.2 365.3v3.2" stroke="#333" stroke-width="1.2"/>
<path d="M402.8 365.3v3.2" stroke="#333" stroke-width="1.2"/>
<path d="M598.0 365.3v3.2" stroke="#333" stroke-width="1.2"/>
<path d="M703.6 365.3v3.2" stroke="#333" stroke-width="1.2"/>
<path d="M792.0 365.3v3.2" stroke="#333" stroke-width="1.2"/>
<text class="ss" x="209.3" y="393.2" font-size="21.5" text-anchor="middle" textLength="48.5" lengthAdjust="spacingAndGlyphs" fill="#3a3a3a">0.02</text>
<text class="ss" x="403.5" y="393.2" font-size="21.5" text-anchor="middle" textLength="48.5" lengthAdjust="spacingAndGlyphs" fill="#3a3a3a">0.10</text>
<text class="ss" x="597.2" y="393.2" font-size="21.5" text-anchor="middle" textLength="48.5" lengthAdjust="spacingAndGlyphs" fill="#3a3a3a">0.50</text>
<text class="ss" x="704.5" y="393.2" font-size="21.5" text-anchor="middle" textLength="46.0" lengthAdjust="spacingAndGlyphs" fill="#3a3a3a">1.20</text>
<text class="ss" x="791.5" y="393.2" font-size="21.5" text-anchor="middle" textLength="48.5" lengthAdjust="spacingAndGlyphs" fill="#3a3a3a">2.50</text>
<text class="ss" x="771.8" y="325.5" font-size="17" text-anchor="middle" textLength="38" lengthAdjust="spacingAndGlyphs" fill="#333">(m<tspan font-size="10" dy="-7">-1</tspan><tspan dy="7">)</tspan></text>
<path d="M72.4 461.9H486.8M72.4 922.9H486.8" stroke="#3a3a3a" stroke-width="1.6" fill="none" stroke-linecap="square"/>
<path d="M72.4 461.9V922.9M486.8 461.9V922.9" stroke="#222" stroke-width="1.15" fill="none" stroke-linecap="square"/>
<path d="M72.4 922.9L486.8 461.9" stroke="#161616" stroke-width="1.25"/>
<path d="M72.4 922.9v5.7" stroke="#222" stroke-width="1.15"/>
<text class="tb" x="72.4" y="957.0" font-size="20.8" text-anchor="middle" textLength="23.0" lengthAdjust="spacingAndGlyphs" >0.0</text>
<path d="M72.4 922.9h-5.4" stroke="#3a3a3a" stroke-width="1.6"/>
<text class="tb" x="58.0" y="931.3" font-size="24" text-anchor="end" textLength="26.5" lengthAdjust="spacingAndGlyphs" >0.0</text>
<path d="M155.3 922.9v5.7" stroke="#222" stroke-width="1.15"/>
<text class="tb" x="155.3" y="957.0" font-size="20.8" text-anchor="middle" textLength="23.0" lengthAdjust="spacingAndGlyphs" >0.5</text>
<path d="M72.4 830.7h-5.4" stroke="#3a3a3a" stroke-width="1.6"/>
<text class="tb" x="58.0" y="839.1" font-size="24" text-anchor="end" textLength="26.5" lengthAdjust="spacingAndGlyphs" >0.5</text>
<path d="M238.2 922.9v5.7" stroke="#222" stroke-width="1.15"/>
<text class="tb" x="238.2" y="957.0" font-size="20.8" text-anchor="middle" textLength="23.0" lengthAdjust="spacingAndGlyphs" >1.0</text>
<path d="M72.4 738.5h-5.4" stroke="#3a3a3a" stroke-width="1.6"/>
<text class="tb" x="58.0" y="746.9" font-size="24" text-anchor="end" textLength="26.5" lengthAdjust="spacingAndGlyphs" >1.0</text>
<path d="M321.0 922.9v5.7" stroke="#222" stroke-width="1.15"/>
<text class="tb" x="321.0" y="957.0" font-size="20.8" text-anchor="middle" textLength="23.0" lengthAdjust="spacingAndGlyphs" >1.5</text>
<path d="M72.4 646.3h-5.4" stroke="#3a3a3a" stroke-width="1.6"/>
<text class="tb" x="58.0" y="654.7" font-size="24" text-anchor="end" textLength="26.5" lengthAdjust="spacingAndGlyphs" >1.5</text>
<path d="M403.9 922.9v5.7" stroke="#222" stroke-width="1.15"/>
<text class="tb" x="403.9" y="957.0" font-size="20.8" text-anchor="middle" textLength="23.0" lengthAdjust="spacingAndGlyphs" >2.0</text>
<path d="M72.4 554.1h-5.4" stroke="#3a3a3a" stroke-width="1.6"/>
<text class="tb" x="58.0" y="562.5" font-size="24" text-anchor="end" textLength="26.5" lengthAdjust="spacingAndGlyphs" >2.0</text>
<path d="M486.8 922.9v5.7" stroke="#222" stroke-width="1.15"/>
<text class="tb" x="486.8" y="957.0" font-size="20.8" text-anchor="middle" textLength="23.0" lengthAdjust="spacingAndGlyphs" >2.5</text>
<path d="M72.4 461.9h-5.4" stroke="#3a3a3a" stroke-width="1.6"/>
<text class="tb" x="58.0" y="470.3" font-size="24" text-anchor="end" textLength="26.5" lengthAdjust="spacingAndGlyphs" >2.5</text>
<text class="tb" x="97.3" y="514.1" font-size="22.7" text-anchor="start" textLength="97.0" lengthAdjust="spacingAndGlyphs" >Bias=0.093</text>
<text class="tb" x="97.3" y="540.6" font-size="22.7" text-anchor="start" textLength="119.5" lengthAdjust="spacingAndGlyphs" >RMSE=0.176</text>
<text class="tb" x="97.3" y="567.1" font-size="22.7" text-anchor="start" textLength="68.5" lengthAdjust="spacingAndGlyphs" >SI=0.45</text>
<text class="tb" x="97.3" y="593.4" font-size="22.7" text-anchor="start" textLength="44.5" lengthAdjust="spacingAndGlyphs" >n=18</text>
<text class="tb" x="278.5" y="512.0" font-size="24.5" text-anchor="start" textLength="32.3" lengthAdjust="spacingAndGlyphs" >(C)</text>
<ellipse cx="76.2" cy="864.8" rx="4.5" ry="5.0" fill="#000"/>
<ellipse cx="91.3" cy="884.3" rx="4.5" ry="5.0" fill="#000"/>
<ellipse cx="101.1" cy="895.0" rx="4.5" ry="5.0" fill="#000"/>
<ellipse cx="116.2" cy="854.7" rx="4.5" ry="5.0" fill="#000"/>
<ellipse cx="124.8" cy="853.4" rx="4.5" ry="5.0" fill="#000"/>
<ellipse cx="129.7" cy="848.4" rx="4.5" ry="5.0" fill="#000"/>
<ellipse cx="132.3" cy="859.3" rx="4.5" ry="5.0" fill="#000"/>
<ellipse cx="140.7" cy="842.4" rx="4.5" ry="5.0" fill="#000"/>
<ellipse cx="153.7" cy="845.3" rx="4.5" ry="5.0" fill="#000"/>
<ellipse cx="155.2" cy="833.1" rx="4.5" ry="5.0" fill="#000"/>
<ellipse cx="148.5" cy="891.6" rx="4.5" ry="5.0" fill="#000"/>
<ellipse cx="119.1" cy="822.2" rx="4.5" ry="5.0" fill="#000"/>
<ellipse cx="129.7" cy="816.2" rx="4.5" ry="5.0" fill="#000"/>
<ellipse cx="134.2" cy="797.5" rx="4.5" ry="5.0" fill="#000"/>
<ellipse cx="150.0" cy="811.8" rx="4.5" ry="5.0" fill="#000"/>
<ellipse cx="155.2" cy="795.4" rx="4.5" ry="5.0" fill="#000"/>
<ellipse cx="163.3" cy="816.7" rx="4.5" ry="5.0" fill="#000"/>
<path d="M322.0 804.3L329.6 811.9M322.0 811.9L329.6 804.3" stroke="#000" stroke-width="3.7" fill="none"/>
<path d="M448.6 769.5L456.2 777.1M448.6 777.1L456.2 769.5" stroke="#000" stroke-width="3.7" fill="none"/>
<path d="M463.2 776.0L470.8 783.6M463.2 783.6L470.8 776.0" stroke="#000" stroke-width="3.7" fill="none"/>
<text class="tb" x="24.5" y="849.4" font-size="21" text-anchor="start" textLength="108.0" lengthAdjust="spacingAndGlyphs" transform="rotate(-90 24.5 849.4)" >Estimated a</text>
<text class="tb" x="29.8" y="741.0" font-size="24.5" text-anchor="start" textLength="79.0" lengthAdjust="spacingAndGlyphs" transform="rotate(-90 29.8 741.0)" >CDOM</text>
<text class="tb" x="24.5" y="657.5" font-size="21" text-anchor="start" textLength="87.0" lengthAdjust="spacingAndGlyphs" transform="rotate(-90 24.5 657.5)" >(412) (m</text>
<text class="tb" x="14.5" y="569.5" font-size="21" text-anchor="start" textLength="16.0" lengthAdjust="spacingAndGlyphs" transform="rotate(-90 14.5 569.5)" >-1</text>
<text class="tb" x="24.5" y="551.5" font-size="21" text-anchor="start" transform="rotate(-90 24.5 551.5)" >)</text>
<text class="tb" x="144.2" y="985.9" font-size="23.5" text-anchor="start" textLength="72.0" lengthAdjust="spacingAndGlyphs" >In situ a</text>
<text class="tb" x="217.2" y="992.0" font-size="23" text-anchor="start" textLength="65.8" lengthAdjust="spacingAndGlyphs" >CDOM</text>
<text class="tb" x="284.2" y="985.9" font-size="23.5" text-anchor="start" textLength="74.2" lengthAdjust="spacingAndGlyphs" >(412) (m</text>
<text class="tb" x="359.6" y="975.3" font-size="23.5" text-anchor="start" textLength="15.6" lengthAdjust="spacingAndGlyphs" >-1</text>
<text class="tb" x="376.3" y="985.9" font-size="23.5" text-anchor="start" textLength="5.6" lengthAdjust="spacingAndGlyphs" >)</text>
<path d="M585.5 461.4H995.2M585.5 916.3H995.2" stroke="#2e2e2e" stroke-width="1.35" fill="none" stroke-linecap="square"/>
<path d="M585.5 461.4V916.3M995.2 461.4V916.3" stroke="#2e2e2e" stroke-width="1.35" fill="none" stroke-linecap="square"/>
<path d="M585.5 916.3L995.2 461.4" stroke="#161616" stroke-width="1.25"/>
<path d="M585.5 916.3v5.7" stroke="#2e2e2e" stroke-width="1.35"/>
<text class="tb" x="585.5" y="950.3" font-size="20.5" text-anchor="middle" textLength="22.5" lengthAdjust="spacingAndGlyphs" >0.0</text>
<path d="M585.5 916.3h-5.4" stroke="#2e2e2e" stroke-width="1.35"/>
<text class="tb" x="572.0" y="923.4" font-size="20.5" text-anchor="end" textLength="22.5" lengthAdjust="spacingAndGlyphs" >0.0</text>
<path d="M667.4 916.3v5.7" stroke="#2e2e2e" stroke-width="1.35"/>
<text class="tb" x="667.4" y="950.3" font-size="20.5" text-anchor="middle" textLength="22.5" lengthAdjust="spacingAndGlyphs" >0.5</text>
<path d="M585.5 825.3h-5.4" stroke="#2e2e2e" stroke-width="1.35"/>
<text class="tb" x="572.0" y="832.4" font-size="20.5" text-anchor="end" textLength="22.5" lengthAdjust="spacingAndGlyphs" >0.5</text>
<path d="M749.4 916.3v5.7" stroke="#2e2e2e" stroke-width="1.35"/>
<text class="tb" x="749.4" y="950.3" font-size="20.5" text-anchor="middle" textLength="22.5" lengthAdjust="spacingAndGlyphs" >1.0</text>
<path d="M585.5 734.3h-5.4" stroke="#2e2e2e" stroke-width="1.35"/>
<text class="tb" x="572.0" y="741.4" font-size="20.5" text-anchor="end" textLength="22.5" lengthAdjust="spacingAndGlyphs" >1.0</text>
<path d="M831.3 916.3v5.7" stroke="#2e2e2e" stroke-width="1.35"/>
<text class="tb" x="831.3" y="950.3" font-size="20.5" text-anchor="middle" textLength="22.5" lengthAdjust="spacingAndGlyphs" >1.5</text>
<path d="M585.5 643.4h-5.4" stroke="#2e2e2e" stroke-width="1.35"/>
<text class="tb" x="572.0" y="650.5" font-size="20.5" text-anchor="end" textLength="22.5" lengthAdjust="spacingAndGlyphs" >1.5</text>
<path d="M913.3 916.3v5.7" stroke="#2e2e2e" stroke-width="1.35"/>
<text class="tb" x="913.3" y="950.3" font-size="20.5" text-anchor="middle" textLength="22.5" lengthAdjust="spacingAndGlyphs" >2.0</text>
<path d="M585.5 552.4h-5.4" stroke="#2e2e2e" stroke-width="1.35"/>
<text class="tb" x="572.0" y="559.5" font-size="20.5" text-anchor="end" textLength="22.5" lengthAdjust="spacingAndGlyphs" >2.0</text>
<path d="M995.2 916.3v5.7" stroke="#2e2e2e" stroke-width="1.35"/>
<text class="tb" x="995.2" y="950.3" font-size="20.5" text-anchor="middle" textLength="22.5" lengthAdjust="spacingAndGlyphs" >2.5</text>
<path d="M585.5 461.4h-5.4" stroke="#2e2e2e" stroke-width="1.35"/>
<text class="tb" x="572.0" y="468.5" font-size="20.5" text-anchor="end" textLength="22.5" lengthAdjust="spacingAndGlyphs" >2.5</text>
<text class="tb" x="609.2" y="512.3" font-size="22.7" text-anchor="start" textLength="96.2" lengthAdjust="spacingAndGlyphs" >Bias=0.089</text>
<text class="tb" x="609.2" y="540.1" font-size="22.7" text-anchor="start" textLength="97.0" lengthAdjust="spacingAndGlyphs" >RMSE=0.3</text>
<text class="tb" x="609.2" y="567.4" font-size="22.7" text-anchor="start" textLength="67.5" lengthAdjust="spacingAndGlyphs" >SI=0.16</text>
<text class="tb" x="609.2" y="594.2" font-size="22.7" text-anchor="start" textLength="44.0" lengthAdjust="spacingAndGlyphs" >n=17</text>
<text class="tb" x="783.4" y="523.2" font-size="23.6" text-anchor="start" textLength="33.3" lengthAdjust="spacingAndGlyphs" >(D)</text>
<ellipse cx="689.0" cy="719.8" rx="5.4" ry="5.2" fill="#000"/>
<ellipse cx="696.5" cy="738.4" rx="5.4" ry="5.2" fill="#000"/>
<ellipse cx="808.7" cy="709.0" rx="5.4" ry="5.2" fill="#000"/>
<ellipse cx="667.1" cy="761.5" rx="5.4" ry="5.2" fill="#000"/>
<ellipse cx="635.0" cy="768.1" rx="5.4" ry="5.2" fill="#000"/>
<ellipse cx="631.1" cy="776.2" rx="5.4" ry="5.2" fill="#000"/>
<ellipse cx="655.4" cy="770.2" rx="5.4" ry="5.2" fill="#000"/>
<ellipse cx="656.0" cy="776.8" rx="5.4" ry="5.2" fill="#000"/>
<ellipse cx="698.6" cy="814.3" rx="5.4" ry="5.2" fill="#000"/>
<ellipse cx="641.9" cy="839.2" rx="5.4" ry="5.2" fill="#000"/>
<ellipse cx="659.9" cy="844.9" rx="5.4" ry="5.2" fill="#000"/>
<ellipse cx="660.5" cy="850.6" rx="5.4" ry="5.2" fill="#000"/>
<ellipse cx="667.1" cy="862.6" rx="5.4" ry="5.2" fill="#000"/>
<ellipse cx="687.5" cy="851.8" rx="5.4" ry="5.2" fill="#000"/>
<ellipse cx="593.6" cy="886.0" rx="5.4" ry="5.2" fill="#000"/>
<ellipse cx="629.9" cy="893.8" rx="5.4" ry="5.2" fill="#000"/>
<ellipse cx="646.7" cy="913.6" rx="5.4" ry="5.2" fill="#000"/>
<path d="M833.3 760.0L841.1 767.8M833.3 767.8L841.1 760.0" stroke="#000" stroke-width="3.7" fill="none"/>
<path d="M834.6 777.2L842.4 785.0M834.6 785.0L842.4 777.2" stroke="#000" stroke-width="3.7" fill="none"/>
<path d="M772.2 833.3L780.0 841.1M772.2 841.1L780.0 833.3" stroke="#000" stroke-width="3.7" fill="none"/>
<path d="M812.3 876.5L820.1 884.3M812.3 884.3L820.1 876.5" stroke="#000" stroke-width="3.7" fill="none"/>
<text class="tb" x="543.9" y="842.2" font-size="21" text-anchor="start" textLength="106.0" lengthAdjust="spacingAndGlyphs" transform="rotate(-90 543.9 842.2)" >Estimated a</text>
<text class="tb" x="552.0" y="736.0" font-size="24" text-anchor="start" textLength="89.3" lengthAdjust="spacingAndGlyphs" transform="rotate(-90 552.0 736.0)" >CDOM</text>
<text class="tb" x="543.9" y="646.5" font-size="21" text-anchor="start" textLength="83.0" lengthAdjust="spacingAndGlyphs" transform="rotate(-90 543.9 646.5)" >(412) (m</text>
<text class="tb" x="533.0" y="562.0" font-size="21" text-anchor="start" textLength="16.0" lengthAdjust="spacingAndGlyphs" transform="rotate(-90 533.0 562.0)" >-1</text>
<text class="tb" x="543.9" y="543.5" font-size="21" text-anchor="start" transform="rotate(-90 543.9 543.5)" >)</text>
<text class="tb" x="681.2" y="991.9" font-size="22.5" text-anchor="start" textLength="72.0" lengthAdjust="spacingAndGlyphs" >In situ a</text>
<text class="tb" x="753.0" y="999.6" font-size="26" text-anchor="start" textLength="65.5" lengthAdjust="spacingAndGlyphs" >CDOM</text>
<text class="tb" x="819.8" y="992.6" font-size="23" text-anchor="start" textLength="72.8" lengthAdjust="spacingAndGlyphs" >(412) (m</text>
<text class="tb" x="892.6" y="972.4" font-size="22" text-anchor="start" textLength="15.5" lengthAdjust="spacingAndGlyphs" >-1</text>
<text class="tb" x="911.3" y="992.6" font-size="23" text-anchor="start" textLength="5.5" lengthAdjust="spacingAndGlyphs" >)</text>
</svg>
</body></html>
